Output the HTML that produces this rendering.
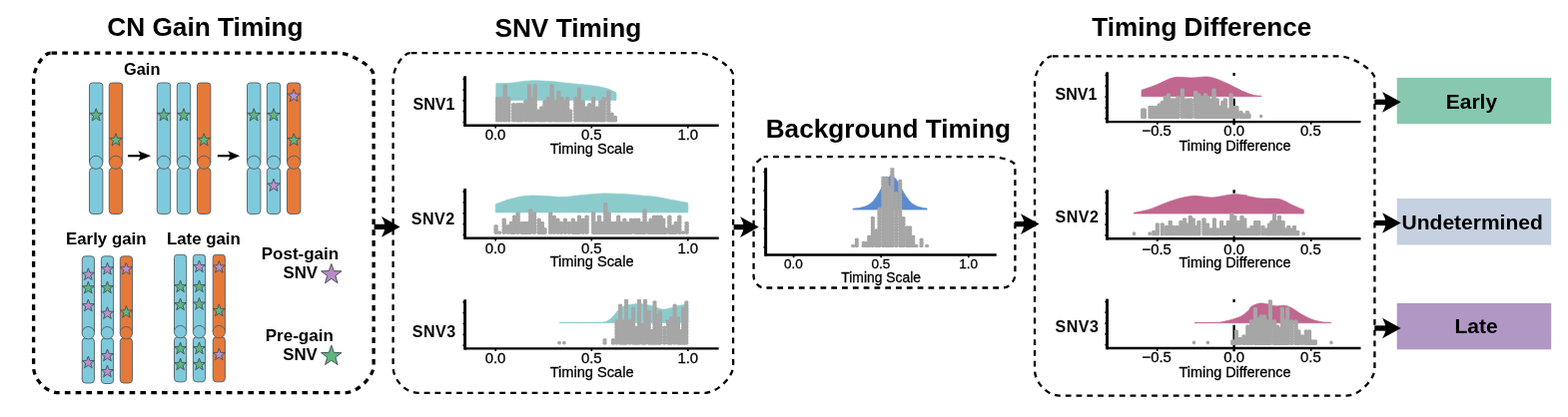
<!DOCTYPE html>
<html lang="en">
<head>
<meta charset="utf-8">
<title>Timing workflow</title>
<style>
html,body{margin:0;padding:0;background:#fff;}
body{width:1570px;height:418px;overflow:hidden;}
svg{display:block;font-family:"Liberation Sans", Arial, Helvetica, sans-serif;will-change:transform;}
</style>
</head>
<body>
<svg width="1570" height="418" viewBox="0 0 1570 418">
<rect width="1570" height="418" fill="#fff"/>
<text x="107.2" y="35.8" font-size="26.25" font-weight="bold" text-anchor="start" fill="#000">CN Gain Timing</text>
<text x="495.4" y="36.9" font-size="26.25" font-weight="bold" text-anchor="start" fill="#000">SNV Timing</text>
<text x="766.7" y="138" font-size="26.2" font-weight="bold" text-anchor="start" fill="#000">Background Timing</text>
<text x="1093.3" y="35.6" font-size="26.1" font-weight="bold" text-anchor="start" fill="#000">Timing Difference</text>
<path d="M50.6 53.2H339.1C351.70 53.20 374.10 67.28 374.10 75.20V366.6C374.10 377.94 357.86 393.60 346.10 393.60H58.6C46.10 393.60 33.60 380.60 33.60 367.60V79.7C33.60 68.57 43.46 53.20 50.60 53.20Z" fill="none" stroke="#000" stroke-width="3.3" stroke-dasharray="5.6 5.2" stroke-dashoffset="-0.9"/>
<path d="M410.6 53.2H699.1C711.70 53.20 734.10 67.28 734.10 75.20V366.8C734.10 378.14 717.86 393.80 706.10 393.80H418.6C406.10 393.80 393.60 380.80 393.60 367.80V79.7C393.60 68.57 403.46 53.20 410.60 53.20Z" fill="none" stroke="#000" stroke-width="2.3" stroke-dasharray="5.8 5.0" stroke-dashoffset="-1.1"/>
<path d="M764.6 157.2H992.4C1003.20 157.20 1016.40 161.93 1016.40 165.80V275.0C1016.40 281.75 1010.40 288.50 1004.40 288.50H765.1C759.85 288.50 754.60 282.60 754.60 276.70V166.7C754.60 165.27 763.10 157.20 764.60 157.20Z" fill="none" stroke="#000" stroke-width="2.3" stroke-dasharray="5.8 5.0" stroke-dashoffset="1.3"/>
<path d="M1053.05 56.4H1341.4C1354.00 56.40 1376.40 70.48 1376.40 78.40V369.65C1376.40 380.99 1360.16 396.65 1348.40 396.65H1061.05C1048.55 396.65 1036.05 383.65 1036.05 370.65V82.9C1036.05 71.77 1045.91 56.40 1053.05 56.40Z" fill="none" stroke="#000" stroke-width="2.3" stroke-dasharray="5.8 5.0" stroke-dashoffset="-0.8"/>
<path d="M374.6 224.75H388.60V230.05H374.6Z" fill="#000"/>
<path d="M400.6 227.4L382.00 217.05Q385.24 222.74 385.60 227.4Q385.24 232.06 382.00 237.75Z" fill="#000"/>
<path d="M734.6 224.95H747.80V230.25H734.6Z" fill="#000"/>
<path d="M759.8 227.6L741.20 217.25Q744.44 222.94 744.80 227.6Q744.44 232.26 741.20 237.95Z" fill="#000"/>
<path d="M1016 221.95H1028.60V227.25H1016Z" fill="#000"/>
<path d="M1040.6 224.6L1022.00 214.25Q1025.24 219.94 1025.60 224.6Q1025.24 229.26 1022.00 234.95Z" fill="#000"/>
<rect x="1398.7" y="77.9" width="154.5" height="46.3" fill="#88c7b0"/>
<rect x="1398.7" y="198.9" width="154.5" height="46.6" fill="#c5d0e0"/>
<rect x="1398.7" y="303.9" width="154.5" height="46.4" fill="#b097c4"/>
<path d="M1376.3 99.65H1390.70V104.95H1376.3Z" fill="#000"/>
<path d="M1402.7 102.3L1384.10 91.95Q1387.34 97.64 1387.70 102.3Q1387.34 106.96 1384.10 112.65Z" fill="#000"/>
<path d="M1376.3 220.85H1390.70V226.15H1376.3Z" fill="#000"/>
<path d="M1402.7 223.5L1384.10 213.15Q1387.34 218.84 1387.70 223.5Q1387.34 228.16 1384.10 233.85Z" fill="#000"/>
<path d="M1376.3 326.35H1390.70V331.65H1376.3Z" fill="#000"/>
<path d="M1402.7 329L1384.10 318.65Q1387.34 324.34 1387.70 329Q1387.34 333.66 1384.10 339.35Z" fill="#000"/>
<text x="1473.4" y="108.7" font-size="21" font-weight="bold" text-anchor="middle" fill="#000">Early</text>
<text x="1474.2" y="230" font-size="21" font-weight="bold" text-anchor="middle" fill="#000">Undetermined</text>
<text x="1478" y="334" font-size="21" font-weight="bold" text-anchor="middle" fill="#000">Late</text>
<text x="124" y="74.7" font-size="16.4" font-weight="bold" text-anchor="start" fill="#000">Gain</text>
<path d="M128.05 155.20H143.40V157.30H128.05Z" fill="#000"/>
<path d="M151.0 156.25L138.40 151.25Q140.20 154.00 140.40 156.25Q140.20 158.50 138.40 161.25Z" fill="#000"/>
<path d="M217.8 155.20H233.20V157.30H217.8Z" fill="#000"/>
<path d="M240.1 156.25L228.20 151.25Q230.00 154.00 230.20 156.25Q230.00 158.50 228.20 161.25Z" fill="#000"/>
<path d="M89.5 162.8V86Q89.5 83 92.5 83H99.9Q102.9 83 102.9 86V162.8" fill="#7fc9dc" stroke="#525d63" stroke-width="0.9"/>
<rect x="89.5" y="168.3" width="13.4" height="46.19999999999999" rx="3.5" ry="3.5" fill="#7fc9dc" stroke="#525d63" stroke-width="0.9"/>
<circle cx="96.2" cy="162.8" r="6.6" fill="#7fc9dc" stroke="#525d63" stroke-width="0.9"/>
<polygon points="96.20,108.70 97.80,113.30 102.67,113.40 98.79,116.34 100.20,121.00 96.20,118.22 92.20,121.00 93.61,116.34 89.73,113.40 94.60,113.30" fill="#5fb67f" stroke="#4b565d" stroke-width="0.95" stroke-linejoin="miter"/>
<path d="M109.3 162.8V86Q109.3 83 112.3 83H119.7Q122.7 83 122.7 86V162.8" fill="#e5793a" stroke="#525d63" stroke-width="0.9"/>
<rect x="109.3" y="168.3" width="13.4" height="46.19999999999999" rx="3.5" ry="3.5" fill="#e5793a" stroke="#525d63" stroke-width="0.9"/>
<circle cx="116" cy="162.8" r="6.6" fill="#e5793a" stroke="#525d63" stroke-width="0.9"/>
<polygon points="116.00,133.70 117.60,138.30 122.47,138.40 118.59,141.34 120.00,146.00 116.00,143.22 112.00,146.00 113.41,141.34 109.53,138.40 114.40,138.30" fill="#5fb67f" stroke="#4b565d" stroke-width="0.95" stroke-linejoin="miter"/>
<path d="M157.3 162.8V86Q157.3 83 160.3 83H167.70000000000002Q170.70000000000002 83 170.70000000000002 86V162.8" fill="#7fc9dc" stroke="#525d63" stroke-width="0.9"/>
<rect x="157.3" y="168.3" width="13.4" height="46.19999999999999" rx="3.5" ry="3.5" fill="#7fc9dc" stroke="#525d63" stroke-width="0.9"/>
<circle cx="164" cy="162.8" r="6.6" fill="#7fc9dc" stroke="#525d63" stroke-width="0.9"/>
<polygon points="164.00,108.70 165.60,113.30 170.47,113.40 166.59,116.34 168.00,121.00 164.00,118.22 160.00,121.00 161.41,116.34 157.53,113.40 162.40,113.30" fill="#5fb67f" stroke="#4b565d" stroke-width="0.95" stroke-linejoin="miter"/>
<path d="M177.3 162.8V86Q177.3 83 180.3 83H187.70000000000002Q190.70000000000002 83 190.70000000000002 86V162.8" fill="#7fc9dc" stroke="#525d63" stroke-width="0.9"/>
<rect x="177.3" y="168.3" width="13.4" height="46.19999999999999" rx="3.5" ry="3.5" fill="#7fc9dc" stroke="#525d63" stroke-width="0.9"/>
<circle cx="184" cy="162.8" r="6.6" fill="#7fc9dc" stroke="#525d63" stroke-width="0.9"/>
<polygon points="184.00,108.70 185.60,113.30 190.47,113.40 186.59,116.34 188.00,121.00 184.00,118.22 180.00,121.00 181.41,116.34 177.53,113.40 182.40,113.30" fill="#5fb67f" stroke="#4b565d" stroke-width="0.95" stroke-linejoin="miter"/>
<path d="M197.5 162.8V86Q197.5 83 200.5 83H207.9Q210.9 83 210.9 86V162.8" fill="#e5793a" stroke="#525d63" stroke-width="0.9"/>
<rect x="197.5" y="168.3" width="13.4" height="46.19999999999999" rx="3.5" ry="3.5" fill="#e5793a" stroke="#525d63" stroke-width="0.9"/>
<circle cx="204.2" cy="162.8" r="6.6" fill="#e5793a" stroke="#525d63" stroke-width="0.9"/>
<polygon points="204.20,133.70 205.80,138.30 210.67,138.40 206.79,141.34 208.20,146.00 204.20,143.22 200.20,146.00 201.61,141.34 197.73,138.40 202.60,138.30" fill="#5fb67f" stroke="#4b565d" stroke-width="0.95" stroke-linejoin="miter"/>
<path d="M247.5 162.8V86Q247.5 83 250.5 83H257.9Q260.9 83 260.9 86V162.8" fill="#7fc9dc" stroke="#525d63" stroke-width="0.9"/>
<rect x="247.5" y="168.3" width="13.4" height="46.19999999999999" rx="3.5" ry="3.5" fill="#7fc9dc" stroke="#525d63" stroke-width="0.9"/>
<circle cx="254.2" cy="162.8" r="6.6" fill="#7fc9dc" stroke="#525d63" stroke-width="0.9"/>
<polygon points="254.20,108.70 255.80,113.30 260.67,113.40 256.79,116.34 258.20,121.00 254.20,118.22 250.20,121.00 251.61,116.34 247.73,113.40 252.60,113.30" fill="#5fb67f" stroke="#4b565d" stroke-width="0.95" stroke-linejoin="miter"/>
<path d="M267.3 162.8V86Q267.3 83 270.3 83H277.7Q280.7 83 280.7 86V162.8" fill="#7fc9dc" stroke="#525d63" stroke-width="0.9"/>
<rect x="267.3" y="168.3" width="13.4" height="46.19999999999999" rx="3.5" ry="3.5" fill="#7fc9dc" stroke="#525d63" stroke-width="0.9"/>
<circle cx="274" cy="162.8" r="6.6" fill="#7fc9dc" stroke="#525d63" stroke-width="0.9"/>
<polygon points="274.00,108.70 275.60,113.30 280.47,113.40 276.59,116.34 278.00,121.00 274.00,118.22 270.00,121.00 271.41,116.34 267.53,113.40 272.40,113.30" fill="#5fb67f" stroke="#4b565d" stroke-width="0.95" stroke-linejoin="miter"/>
<polygon points="274.00,179.20 275.60,183.80 280.47,183.90 276.59,186.84 278.00,191.50 274.00,188.72 270.00,191.50 271.41,186.84 267.53,183.90 272.40,183.80" fill="#bc90cb" stroke="#4b565d" stroke-width="0.95" stroke-linejoin="miter"/>
<path d="M287.5 162.8V86Q287.5 83 290.5 83H297.9Q300.9 83 300.9 86V162.8" fill="#e5793a" stroke="#525d63" stroke-width="0.9"/>
<rect x="287.5" y="168.3" width="13.4" height="46.19999999999999" rx="3.5" ry="3.5" fill="#e5793a" stroke="#525d63" stroke-width="0.9"/>
<circle cx="294.2" cy="162.8" r="6.6" fill="#e5793a" stroke="#525d63" stroke-width="0.9"/>
<polygon points="294.20,89.40 295.80,94.00 300.67,94.10 296.79,97.04 298.20,101.70 294.20,98.92 290.20,101.70 291.61,97.04 287.73,94.10 292.60,94.00" fill="#bc90cb" stroke="#4b565d" stroke-width="0.95" stroke-linejoin="miter"/>
<polygon points="294.20,133.70 295.80,138.30 300.67,138.40 296.79,141.34 298.20,146.00 294.20,143.22 290.20,146.00 291.61,141.34 287.73,138.40 292.60,138.30" fill="#5fb67f" stroke="#4b565d" stroke-width="0.95" stroke-linejoin="miter"/>
<path d="M82.25 333.7V259.8Q82.25 256.8 85.25 256.8H91.45Q94.45 256.8 94.45 259.8V333.7" fill="#7fc9dc" stroke="#525d63" stroke-width="0.9"/>
<rect x="82.25" y="338.79999999999995" width="12.2" height="45.200000000000045" rx="3.5" ry="3.5" fill="#7fc9dc" stroke="#525d63" stroke-width="0.9"/>
<circle cx="88.35" cy="333.7" r="6.2" fill="#7fc9dc" stroke="#525d63" stroke-width="0.9"/>
<polygon points="88.35,268.80 89.88,273.20 94.53,273.29 90.82,276.10 92.17,280.56 88.35,277.90 84.53,280.56 85.88,276.10 82.17,273.29 86.82,273.20" fill="#bc90cb" stroke="#4b565d" stroke-width="0.95" stroke-linejoin="miter"/>
<polygon points="88.35,282.30 89.88,286.70 94.53,286.79 90.82,289.60 92.17,294.06 88.35,291.40 84.53,294.06 85.88,289.60 82.17,286.79 86.82,286.70" fill="#5fb67f" stroke="#4b565d" stroke-width="0.95" stroke-linejoin="miter"/>
<polygon points="88.35,300.10 89.88,304.50 94.53,304.59 90.82,307.40 92.17,311.86 88.35,309.20 84.53,311.86 85.88,307.40 82.17,304.59 86.82,304.50" fill="#bc90cb" stroke="#4b565d" stroke-width="0.95" stroke-linejoin="miter"/>
<polygon points="88.35,357.00 89.88,361.40 94.53,361.49 90.82,364.30 92.17,368.76 88.35,366.10 84.53,368.76 85.88,364.30 82.17,361.49 86.82,361.40" fill="#bc90cb" stroke="#4b565d" stroke-width="0.95" stroke-linejoin="miter"/>
<path d="M101.4 333.7V259.8Q101.4 256.8 104.4 256.8H110.60000000000001Q113.60000000000001 256.8 113.60000000000001 259.8V333.7" fill="#7fc9dc" stroke="#525d63" stroke-width="0.9"/>
<rect x="101.4" y="338.79999999999995" width="12.2" height="45.700000000000045" rx="3.5" ry="3.5" fill="#7fc9dc" stroke="#525d63" stroke-width="0.9"/>
<circle cx="107.5" cy="333.7" r="6.2" fill="#7fc9dc" stroke="#525d63" stroke-width="0.9"/>
<polygon points="107.50,263.30 109.03,267.70 113.68,267.79 109.97,270.60 111.32,275.06 107.50,272.40 103.68,275.06 105.03,270.60 101.32,267.79 105.97,267.70" fill="#bc90cb" stroke="#4b565d" stroke-width="0.95" stroke-linejoin="miter"/>
<polygon points="107.50,282.00 109.03,286.40 113.68,286.49 109.97,289.30 111.32,293.76 107.50,291.10 103.68,293.76 105.03,289.30 101.32,286.49 105.97,286.40" fill="#5fb67f" stroke="#4b565d" stroke-width="0.95" stroke-linejoin="miter"/>
<polygon points="107.50,307.70 109.03,312.10 113.68,312.19 109.97,315.00 111.32,319.46 107.50,316.80 103.68,319.46 105.03,315.00 101.32,312.19 105.97,312.10" fill="#bc90cb" stroke="#4b565d" stroke-width="0.95" stroke-linejoin="miter"/>
<polygon points="107.50,350.00 109.03,354.40 113.68,354.49 109.97,357.30 111.32,361.76 107.50,359.10 103.68,361.76 105.03,357.30 101.32,354.49 105.97,354.40" fill="#bc90cb" stroke="#4b565d" stroke-width="0.95" stroke-linejoin="miter"/>
<polygon points="107.50,366.00 109.03,370.40 113.68,370.49 109.97,373.30 111.32,377.76 107.50,375.10 103.68,377.76 105.03,373.30 101.32,370.49 105.97,370.40" fill="#bc90cb" stroke="#4b565d" stroke-width="0.95" stroke-linejoin="miter"/>
<path d="M120.30000000000001 333.7V259.8Q120.30000000000001 256.8 123.30000000000001 256.8H129.5Q132.5 256.8 132.5 259.8V333.7" fill="#e5793a" stroke="#525d63" stroke-width="0.9"/>
<rect x="120.30000000000001" y="338.79999999999995" width="12.2" height="45.200000000000045" rx="3.5" ry="3.5" fill="#e5793a" stroke="#525d63" stroke-width="0.9"/>
<circle cx="126.4" cy="333.7" r="6.2" fill="#e5793a" stroke="#525d63" stroke-width="0.9"/>
<polygon points="126.40,263.30 127.93,267.70 132.58,267.79 128.87,270.60 130.22,275.06 126.40,272.40 122.58,275.06 123.93,270.60 120.22,267.79 124.87,267.70" fill="#bc90cb" stroke="#4b565d" stroke-width="0.95" stroke-linejoin="miter"/>
<polygon points="126.40,306.50 127.93,310.90 132.58,310.99 128.87,313.80 130.22,318.26 126.40,315.60 122.58,318.26 123.93,313.80 120.22,310.99 124.87,310.90" fill="#5fb67f" stroke="#4b565d" stroke-width="0.95" stroke-linejoin="miter"/>
<path d="M174.5 332.6V258.3Q174.5 255.3 177.5 255.3H183.7Q186.7 255.3 186.7 258.3V332.6" fill="#7fc9dc" stroke="#525d63" stroke-width="0.9"/>
<rect x="174.5" y="337.7" width="12.2" height="45.10000000000002" rx="3.5" ry="3.5" fill="#7fc9dc" stroke="#525d63" stroke-width="0.9"/>
<circle cx="180.6" cy="332.6" r="6.2" fill="#7fc9dc" stroke="#525d63" stroke-width="0.9"/>
<polygon points="180.60,281.00 182.13,285.40 186.78,285.49 183.07,288.30 184.42,292.76 180.60,290.10 176.78,292.76 178.13,288.30 174.42,285.49 179.07,285.40" fill="#5fb67f" stroke="#4b565d" stroke-width="0.95" stroke-linejoin="miter"/>
<polygon points="180.60,299.00 182.13,303.40 186.78,303.49 183.07,306.30 184.42,310.76 180.60,308.10 176.78,310.76 178.13,306.30 174.42,303.49 179.07,303.40" fill="#5fb67f" stroke="#4b565d" stroke-width="0.95" stroke-linejoin="miter"/>
<polygon points="180.60,343.00 182.13,347.40 186.78,347.49 183.07,350.30 184.42,354.76 180.60,352.10 176.78,354.76 178.13,350.30 174.42,347.49 179.07,347.40" fill="#5fb67f" stroke="#4b565d" stroke-width="0.95" stroke-linejoin="miter"/>
<polygon points="180.60,359.00 182.13,363.40 186.78,363.49 183.07,366.30 184.42,370.76 180.60,368.10 176.78,370.76 178.13,366.30 174.42,363.49 179.07,363.40" fill="#5fb67f" stroke="#4b565d" stroke-width="0.95" stroke-linejoin="miter"/>
<path d="M193.4 332.6V258.3Q193.4 255.3 196.4 255.3H202.6Q205.6 255.3 205.6 258.3V332.6" fill="#7fc9dc" stroke="#525d63" stroke-width="0.9"/>
<rect x="193.4" y="337.7" width="12.2" height="45.10000000000002" rx="3.5" ry="3.5" fill="#7fc9dc" stroke="#525d63" stroke-width="0.9"/>
<circle cx="199.5" cy="332.6" r="6.2" fill="#7fc9dc" stroke="#525d63" stroke-width="0.9"/>
<polygon points="199.50,261.00 201.03,265.40 205.68,265.49 201.97,268.30 203.32,272.76 199.50,270.10 195.68,272.76 197.03,268.30 193.32,265.49 197.97,265.40" fill="#bc90cb" stroke="#4b565d" stroke-width="0.95" stroke-linejoin="miter"/>
<polygon points="199.50,281.00 201.03,285.40 205.68,285.49 201.97,288.30 203.32,292.76 199.50,290.10 195.68,292.76 197.03,288.30 193.32,285.49 197.97,285.40" fill="#5fb67f" stroke="#4b565d" stroke-width="0.95" stroke-linejoin="miter"/>
<polygon points="199.50,298.50 201.03,302.90 205.68,302.99 201.97,305.80 203.32,310.26 199.50,307.60 195.68,310.26 197.03,305.80 193.32,302.99 197.97,302.90" fill="#5fb67f" stroke="#4b565d" stroke-width="0.95" stroke-linejoin="miter"/>
<polygon points="199.50,343.00 201.03,347.40 205.68,347.49 201.97,350.30 203.32,354.76 199.50,352.10 195.68,354.76 197.03,350.30 193.32,347.49 197.97,347.40" fill="#5fb67f" stroke="#4b565d" stroke-width="0.95" stroke-linejoin="miter"/>
<polygon points="199.50,359.00 201.03,363.40 205.68,363.49 201.97,366.30 203.32,370.76 199.50,368.10 195.68,370.76 197.03,366.30 193.32,363.49 197.97,363.40" fill="#5fb67f" stroke="#4b565d" stroke-width="0.95" stroke-linejoin="miter"/>
<path d="M213.20000000000002 332.6V258.3Q213.20000000000002 255.3 216.20000000000002 255.3H222.4Q225.4 255.3 225.4 258.3V332.6" fill="#e5793a" stroke="#525d63" stroke-width="0.9"/>
<rect x="213.20000000000002" y="337.7" width="12.2" height="45.10000000000002" rx="3.5" ry="3.5" fill="#e5793a" stroke="#525d63" stroke-width="0.9"/>
<circle cx="219.3" cy="332.6" r="6.2" fill="#e5793a" stroke="#525d63" stroke-width="0.9"/>
<polygon points="219.30,261.50 220.83,265.90 225.48,265.99 221.77,268.80 223.12,273.26 219.30,270.60 215.48,273.26 216.83,268.80 213.12,265.99 217.77,265.90" fill="#bc90cb" stroke="#4b565d" stroke-width="0.95" stroke-linejoin="miter"/>
<polygon points="219.30,305.00 220.83,309.40 225.48,309.49 221.77,312.30 223.12,316.76 219.30,314.10 215.48,316.76 216.83,312.30 213.12,309.49 217.77,309.40" fill="#5fb67f" stroke="#4b565d" stroke-width="0.95" stroke-linejoin="miter"/>
<polygon points="219.30,349.00 220.83,353.40 225.48,353.49 221.77,356.30 223.12,360.76 219.30,358.10 215.48,360.76 216.83,356.30 213.12,353.49 217.77,353.40" fill="#bc90cb" stroke="#4b565d" stroke-width="0.95" stroke-linejoin="miter"/>
<text x="66" y="245.3" font-size="16.85" font-weight="bold" text-anchor="start" fill="#000">Early gain</text>
<text x="166.9" y="245.3" font-size="16.85" font-weight="bold" text-anchor="start" fill="#000">Late gain</text>
<text x="339.2" y="260" font-size="17.0" font-weight="bold" text-anchor="end" fill="#000">Post-gain</text>
<text x="318.0" y="279.3" font-size="16.8" font-weight="bold" text-anchor="end" fill="#000">SNV</text>
<text x="333.8" y="342" font-size="17.0" font-weight="bold" text-anchor="end" fill="#000">Pre-gain</text>
<text x="317.8" y="361.3" font-size="16.8" font-weight="bold" text-anchor="end" fill="#000">SNV</text>
<polygon points="331.80,264.40 334.33,271.62 341.98,271.79 335.89,276.43 338.09,283.76 331.80,279.40 325.51,283.76 327.71,276.43 321.62,271.79 329.27,271.62" fill="#b68bc4" stroke="#4b565d" stroke-width="1.0" stroke-linejoin="miter"/>
<polygon points="331.80,346.20 334.33,353.42 341.98,353.59 335.89,358.23 338.09,365.56 331.80,361.20 325.51,365.56 327.71,358.23 321.62,353.59 329.27,353.42" fill="#5fb67f" stroke="#4b565d" stroke-width="1.0" stroke-linejoin="miter"/>
<path d="M496.8 83.6C499.3 83.5 505.6 83.6 511.3 83.2C517.0 82.7 524.5 81.2 531.1 80.9C537.6 80.7 545.3 81.2 550.8 81.6C556.3 81.9 557.4 82.2 563.9 82.9C570.5 83.6 583.2 84.6 590.3 85.5C597.3 86.4 601.6 87.0 606.1 88.2C610.5 89.4 615.2 92.0 617.0 92.8L617.0 100.4L496.8 100.4Z" fill="#8ccbcc" stroke="#8ccbcc" stroke-width="0.7" stroke-linejoin="round"/>
<path d="M498.2 120.7V98.6M501.8 120.7V98.6M505.7 120.7V86.0M509.3 120.7V98.6M514.2 120.7V104.9M517.9 120.7V104.9M520.3 120.7V104.9M522.5 120.7V104.9M526.4 120.7V101.8M530.0 120.7V86.0M532.8 120.7V98.6M535.7 120.7V86.0M539.2 120.7V111.2M542.2 120.7V108.1M545.5 120.7V101.8M549.1 120.7V98.6M552.5 120.7V86.0M556.1 120.7V101.8M559.3 120.7V92.3M562.6 120.7V98.6M564.9 120.7V101.8M568.2 120.7V98.6M571.2 120.7V111.2M576.4 120.7V98.6M580.0 120.7V89.2M583.7 120.7V101.8M587.0 120.7V108.1M590.3 120.7V104.9M594.2 120.7V98.6M597.9 120.7V108.1M601.4 120.7V101.8M604.7 120.7V98.6M609.3 120.7V92.3M612.6 120.7V114.4M615.9 120.7V117.5" fill="none" stroke="#a6a6a6" stroke-width="3.80" stroke-linecap="butt"/>
<path transform="scale(1 0.8)" d="M498.2 150.82v-0.01M498.2 146.89v-0.01M498.2 142.95v-0.01M498.2 139.01v-0.01M498.2 135.07v-0.01M498.2 131.14v-0.01M498.2 127.20v-0.01M498.2 123.26v-0.01M501.8 150.82v-0.01M501.8 146.89v-0.01M501.8 142.95v-0.01M501.8 139.01v-0.01M501.8 135.07v-0.01M501.8 131.14v-0.01M501.8 127.20v-0.01M501.8 123.26v-0.01M505.7 150.82v-0.01M505.7 146.89v-0.01M505.7 142.95v-0.01M505.7 139.01v-0.01M505.7 135.07v-0.01M505.7 131.14v-0.01M505.7 127.20v-0.01M505.7 123.26v-0.01M505.7 119.32v-0.01M505.7 115.39v-0.01M505.7 111.45v-0.01M505.7 107.51v-0.01M509.3 150.82v-0.01M509.3 146.89v-0.01M509.3 142.95v-0.01M509.3 139.01v-0.01M509.3 135.07v-0.01M509.3 131.14v-0.01M509.3 127.20v-0.01M509.3 123.26v-0.01M514.2 150.82v-0.01M514.2 146.89v-0.01M514.2 142.95v-0.01M514.2 139.01v-0.01M514.2 135.07v-0.01M514.2 131.14v-0.01M517.9 150.82v-0.01M517.9 146.89v-0.01M517.9 142.95v-0.01M517.9 139.01v-0.01M517.9 135.07v-0.01M517.9 131.14v-0.01M520.3 150.82v-0.01M520.3 146.89v-0.01M520.3 142.95v-0.01M520.3 139.01v-0.01M520.3 135.07v-0.01M520.3 131.14v-0.01M522.5 150.82v-0.01M522.5 146.89v-0.01M522.5 142.95v-0.01M522.5 139.01v-0.01M522.5 135.07v-0.01M522.5 131.14v-0.01M526.4 150.82v-0.01M526.4 146.89v-0.01M526.4 142.95v-0.01M526.4 139.01v-0.01M526.4 135.07v-0.01M526.4 131.14v-0.01M526.4 127.20v-0.01M530.0 150.82v-0.01M530.0 146.89v-0.01M530.0 142.95v-0.01M530.0 139.01v-0.01M530.0 135.07v-0.01M530.0 131.14v-0.01M530.0 127.20v-0.01M530.0 123.26v-0.01M530.0 119.32v-0.01M530.0 115.39v-0.01M530.0 111.45v-0.01M530.0 107.51v-0.01M532.8 150.82v-0.01M532.8 146.89v-0.01M532.8 142.95v-0.01M532.8 139.01v-0.01M532.8 135.07v-0.01M532.8 131.14v-0.01M532.8 127.20v-0.01M532.8 123.26v-0.01M535.7 150.82v-0.01M535.7 146.89v-0.01M535.7 142.95v-0.01M535.7 139.01v-0.01M535.7 135.07v-0.01M535.7 131.14v-0.01M535.7 127.20v-0.01M535.7 123.26v-0.01M535.7 119.32v-0.01M535.7 115.39v-0.01M535.7 111.45v-0.01M535.7 107.51v-0.01M539.2 150.82v-0.01M539.2 146.89v-0.01M539.2 142.95v-0.01M539.2 139.01v-0.01M542.2 150.82v-0.01M542.2 146.89v-0.01M542.2 142.95v-0.01M542.2 139.01v-0.01M542.2 135.07v-0.01M545.5 150.82v-0.01M545.5 146.89v-0.01M545.5 142.95v-0.01M545.5 139.01v-0.01M545.5 135.07v-0.01M545.5 131.14v-0.01M545.5 127.20v-0.01M549.1 150.82v-0.01M549.1 146.89v-0.01M549.1 142.95v-0.01M549.1 139.01v-0.01M549.1 135.07v-0.01M549.1 131.14v-0.01M549.1 127.20v-0.01M549.1 123.26v-0.01M552.5 150.82v-0.01M552.5 146.89v-0.01M552.5 142.95v-0.01M552.5 139.01v-0.01M552.5 135.07v-0.01M552.5 131.14v-0.01M552.5 127.20v-0.01M552.5 123.26v-0.01M552.5 119.32v-0.01M552.5 115.39v-0.01M552.5 111.45v-0.01M552.5 107.51v-0.01M556.1 150.82v-0.01M556.1 146.89v-0.01M556.1 142.95v-0.01M556.1 139.01v-0.01M556.1 135.07v-0.01M556.1 131.14v-0.01M556.1 127.20v-0.01M559.3 150.82v-0.01M559.3 146.89v-0.01M559.3 142.95v-0.01M559.3 139.01v-0.01M559.3 135.07v-0.01M559.3 131.14v-0.01M559.3 127.20v-0.01M559.3 123.26v-0.01M559.3 119.32v-0.01M559.3 115.39v-0.01M562.6 150.82v-0.01M562.6 146.89v-0.01M562.6 142.95v-0.01M562.6 139.01v-0.01M562.6 135.07v-0.01M562.6 131.14v-0.01M562.6 127.20v-0.01M562.6 123.26v-0.01M564.9 150.82v-0.01M564.9 146.89v-0.01M564.9 142.95v-0.01M564.9 139.01v-0.01M564.9 135.07v-0.01M564.9 131.14v-0.01M564.9 127.20v-0.01M568.2 150.82v-0.01M568.2 146.89v-0.01M568.2 142.95v-0.01M568.2 139.01v-0.01M568.2 135.07v-0.01M568.2 131.14v-0.01M568.2 127.20v-0.01M568.2 123.26v-0.01M571.2 150.82v-0.01M571.2 146.89v-0.01M571.2 142.95v-0.01M571.2 139.01v-0.01M576.4 150.82v-0.01M576.4 146.89v-0.01M576.4 142.95v-0.01M576.4 139.01v-0.01M576.4 135.07v-0.01M576.4 131.14v-0.01M576.4 127.20v-0.01M576.4 123.26v-0.01M580.0 150.82v-0.01M580.0 146.89v-0.01M580.0 142.95v-0.01M580.0 139.01v-0.01M580.0 135.07v-0.01M580.0 131.14v-0.01M580.0 127.20v-0.01M580.0 123.26v-0.01M580.0 119.32v-0.01M580.0 115.39v-0.01M580.0 111.45v-0.01M583.7 150.82v-0.01M583.7 146.89v-0.01M583.7 142.95v-0.01M583.7 139.01v-0.01M583.7 135.07v-0.01M583.7 131.14v-0.01M583.7 127.20v-0.01M587.0 150.82v-0.01M587.0 146.89v-0.01M587.0 142.95v-0.01M587.0 139.01v-0.01M587.0 135.07v-0.01M590.3 150.82v-0.01M590.3 146.89v-0.01M590.3 142.95v-0.01M590.3 139.01v-0.01M590.3 135.07v-0.01M590.3 131.14v-0.01M594.2 150.82v-0.01M594.2 146.89v-0.01M594.2 142.95v-0.01M594.2 139.01v-0.01M594.2 135.07v-0.01M594.2 131.14v-0.01M594.2 127.20v-0.01M594.2 123.26v-0.01M597.9 150.82v-0.01M597.9 146.89v-0.01M597.9 142.95v-0.01M597.9 139.01v-0.01M597.9 135.07v-0.01M601.4 150.82v-0.01M601.4 146.89v-0.01M601.4 142.95v-0.01M601.4 139.01v-0.01M601.4 135.07v-0.01M601.4 131.14v-0.01M601.4 127.20v-0.01M604.7 150.82v-0.01M604.7 146.89v-0.01M604.7 142.95v-0.01M604.7 139.01v-0.01M604.7 135.07v-0.01M604.7 131.14v-0.01M604.7 127.20v-0.01M604.7 123.26v-0.01M609.3 150.82v-0.01M609.3 146.89v-0.01M609.3 142.95v-0.01M609.3 139.01v-0.01M609.3 135.07v-0.01M609.3 131.14v-0.01M609.3 127.20v-0.01M609.3 123.26v-0.01M609.3 119.32v-0.01M609.3 115.39v-0.01M612.6 150.82v-0.01M612.6 146.89v-0.01M612.6 142.95v-0.01M615.9 150.82v-0.01M615.9 146.89v-0.01" fill="none" stroke="#a6a6a6" stroke-width="4.6" stroke-linecap="round"/>
<path d="M465.7 76.5V125.8H719.7" fill="none" stroke="#000" stroke-width="2.4" stroke-linejoin="miter"/>
<path d="M465.59999999999997 76.5V127.0" fill="none" stroke="#000" stroke-width="2.6999999999999997"/>
<path d="M496.2 125.8v2.70M592.3 125.8v2.70M688.8 125.8v2.70M465.7 122.5h-2.20M465.7 111.7h-2.20M465.7 100.9h-2.20M465.7 90.1h-2.20M465.7 79.3h-2.20" fill="none" stroke="#000" stroke-width="1.7"/>
<text x="496.0" y="140.4" font-size="14.9" stroke="#000" stroke-width="0.3" text-anchor="middle" fill="#000">0.0</text>
<text x="592.3" y="140.4" font-size="14.9" stroke="#000" stroke-width="0.3" text-anchor="middle" fill="#000">0.5</text>
<text x="688.8" y="140.4" font-size="14.9" stroke="#000" stroke-width="0.3" text-anchor="middle" fill="#000">1.0</text>
<text x="592.6" y="154.2" font-size="14.6" stroke="#000" stroke-width="0.3" text-anchor="middle" fill="#000">Timing Scale</text>
<text x="413.6" y="109.7" font-size="16" font-weight="bold" text-anchor="start" fill="#000">SNV1</text>
<path d="M496.2 204.7C498.7 203.9 505.9 200.9 511.3 199.5C516.7 198.0 521.8 196.6 528.4 196.2C535.0 195.7 544.9 196.6 550.8 196.8C556.7 197.1 558.5 197.7 563.9 197.5C569.4 197.3 577.1 196.1 583.7 195.5C590.3 194.9 596.8 194.1 603.4 193.9C610.0 193.8 616.3 194.1 623.2 194.5C630.0 194.8 638.7 195.7 644.5 196.2C650.2 196.7 653.2 196.8 657.6 197.5C662.0 198.2 665.6 199.1 670.8 200.1C676.0 201.1 685.8 202.9 688.8 203.4L688.8 212.9L496.2 212.9Z" fill="#8ccbcc" stroke="#8ccbcc" stroke-width="0.7" stroke-linejoin="round"/>
<path d="M496.6 233.1V226.8M504.7 233.1V220.5M508.4 233.1V226.8M512.0 233.1V223.6M515.0 233.1V217.3M518.6 233.1V214.2M522.5 233.1V223.6M525.8 233.1V223.6M528.4 233.1V223.6M531.3 233.1V211.0M535.0 233.1V214.2M539.6 233.1V220.5M542.9 233.1V223.6M545.5 233.1V229.9M551.2 233.1V214.2M554.7 233.1V217.3M558.4 233.1V220.5M562.0 233.1V223.6M565.9 233.1V220.5M569.9 233.1V223.6M573.8 233.1V220.5M577.1 233.1V223.6M580.0 233.1V217.3M583.7 233.1V220.5M587.6 233.1V217.3M594.2 233.1V214.2M597.5 233.1V223.6M600.1 233.1V217.3M603.4 233.1V223.6M606.3 233.1V204.7M609.6 233.1V214.2M612.9 233.1V223.6M616.2 233.1V223.6M619.2 233.1V217.3M622.1 233.1V223.6M625.4 233.1V220.5M628.7 233.1V223.6M632.0 233.1V220.5M635.9 233.1V220.5M639.2 233.1V220.5M642.5 233.1V223.6M645.5 233.1V211.0M649.1 233.1V223.6M651.7 233.1V220.5M655.0 233.1V217.3M658.3 233.1V217.3M661.6 233.1V217.3M664.2 233.1V220.5M666.8 233.1V229.9M670.4 233.1V217.3M673.4 233.1V226.8M676.7 233.1V223.6M680.3 233.1V217.3M687.6 233.1V223.6" fill="none" stroke="#a6a6a6" stroke-width="3.80" stroke-linecap="butt"/>
<path transform="scale(1 0.8)" d="M496.6 291.32v-0.01M496.6 287.39v-0.01M496.6 283.45v-0.01M500.1 291.32v-0.01M504.7 291.32v-0.01M504.7 287.39v-0.01M504.7 283.45v-0.01M504.7 279.51v-0.01M504.7 275.57v-0.01M508.4 291.32v-0.01M508.4 287.39v-0.01M508.4 283.45v-0.01M512.0 291.32v-0.01M512.0 287.39v-0.01M512.0 283.45v-0.01M512.0 279.51v-0.01M515.0 291.32v-0.01M515.0 287.39v-0.01M515.0 283.45v-0.01M515.0 279.51v-0.01M515.0 275.57v-0.01M515.0 271.64v-0.01M518.6 291.32v-0.01M518.6 287.39v-0.01M518.6 283.45v-0.01M518.6 279.51v-0.01M518.6 275.57v-0.01M518.6 271.64v-0.01M518.6 267.70v-0.01M522.5 291.32v-0.01M522.5 287.39v-0.01M522.5 283.45v-0.01M522.5 279.51v-0.01M525.8 291.32v-0.01M525.8 287.39v-0.01M525.8 283.45v-0.01M525.8 279.51v-0.01M528.4 291.32v-0.01M528.4 287.39v-0.01M528.4 283.45v-0.01M528.4 279.51v-0.01M531.3 291.32v-0.01M531.3 287.39v-0.01M531.3 283.45v-0.01M531.3 279.51v-0.01M531.3 275.57v-0.01M531.3 271.64v-0.01M531.3 267.70v-0.01M531.3 263.76v-0.01M535.0 291.32v-0.01M535.0 287.39v-0.01M535.0 283.45v-0.01M535.0 279.51v-0.01M535.0 275.57v-0.01M535.0 271.64v-0.01M535.0 267.70v-0.01M539.6 291.32v-0.01M539.6 287.39v-0.01M539.6 283.45v-0.01M539.6 279.51v-0.01M539.6 275.57v-0.01M542.9 291.32v-0.01M542.9 287.39v-0.01M542.9 283.45v-0.01M542.9 279.51v-0.01M545.5 291.32v-0.01M545.5 287.39v-0.01M551.2 291.32v-0.01M551.2 287.39v-0.01M551.2 283.45v-0.01M551.2 279.51v-0.01M551.2 275.57v-0.01M551.2 271.64v-0.01M551.2 267.70v-0.01M554.7 291.32v-0.01M554.7 287.39v-0.01M554.7 283.45v-0.01M554.7 279.51v-0.01M554.7 275.57v-0.01M554.7 271.64v-0.01M558.4 291.32v-0.01M558.4 287.39v-0.01M558.4 283.45v-0.01M558.4 279.51v-0.01M558.4 275.57v-0.01M562.0 291.32v-0.01M562.0 287.39v-0.01M562.0 283.45v-0.01M562.0 279.51v-0.01M565.9 291.32v-0.01M565.9 287.39v-0.01M565.9 283.45v-0.01M565.9 279.51v-0.01M565.9 275.57v-0.01M569.9 291.32v-0.01M569.9 287.39v-0.01M569.9 283.45v-0.01M569.9 279.51v-0.01M573.8 291.32v-0.01M573.8 287.39v-0.01M573.8 283.45v-0.01M573.8 279.51v-0.01M573.8 275.57v-0.01M577.1 291.32v-0.01M577.1 287.39v-0.01M577.1 283.45v-0.01M577.1 279.51v-0.01M580.0 291.32v-0.01M580.0 287.39v-0.01M580.0 283.45v-0.01M580.0 279.51v-0.01M580.0 275.57v-0.01M580.0 271.64v-0.01M583.7 291.32v-0.01M583.7 287.39v-0.01M583.7 283.45v-0.01M583.7 279.51v-0.01M583.7 275.57v-0.01M587.6 291.32v-0.01M587.6 287.39v-0.01M587.6 283.45v-0.01M587.6 279.51v-0.01M587.6 275.57v-0.01M587.6 271.64v-0.01M594.2 291.32v-0.01M594.2 287.39v-0.01M594.2 283.45v-0.01M594.2 279.51v-0.01M594.2 275.57v-0.01M594.2 271.64v-0.01M594.2 267.70v-0.01M597.5 291.32v-0.01M597.5 287.39v-0.01M597.5 283.45v-0.01M597.5 279.51v-0.01M600.1 291.32v-0.01M600.1 287.39v-0.01M600.1 283.45v-0.01M600.1 279.51v-0.01M600.1 275.57v-0.01M600.1 271.64v-0.01M603.4 291.32v-0.01M603.4 287.39v-0.01M603.4 283.45v-0.01M603.4 279.51v-0.01M606.3 291.32v-0.01M606.3 287.39v-0.01M606.3 283.45v-0.01M606.3 279.51v-0.01M606.3 275.57v-0.01M606.3 271.64v-0.01M606.3 267.70v-0.01M606.3 263.76v-0.01M606.3 259.82v-0.01M606.3 255.89v-0.01M609.6 291.32v-0.01M609.6 287.39v-0.01M609.6 283.45v-0.01M609.6 279.51v-0.01M609.6 275.57v-0.01M609.6 271.64v-0.01M609.6 267.70v-0.01M612.9 291.32v-0.01M612.9 287.39v-0.01M612.9 283.45v-0.01M612.9 279.51v-0.01M616.2 291.32v-0.01M616.2 287.39v-0.01M616.2 283.45v-0.01M616.2 279.51v-0.01M619.2 291.32v-0.01M619.2 287.39v-0.01M619.2 283.45v-0.01M619.2 279.51v-0.01M619.2 275.57v-0.01M619.2 271.64v-0.01M622.1 291.32v-0.01M622.1 287.39v-0.01M622.1 283.45v-0.01M622.1 279.51v-0.01M625.4 291.32v-0.01M625.4 287.39v-0.01M625.4 283.45v-0.01M625.4 279.51v-0.01M625.4 275.57v-0.01M628.7 291.32v-0.01M628.7 287.39v-0.01M628.7 283.45v-0.01M628.7 279.51v-0.01M632.0 291.32v-0.01M632.0 287.39v-0.01M632.0 283.45v-0.01M632.0 279.51v-0.01M632.0 275.57v-0.01M635.9 291.32v-0.01M635.9 287.39v-0.01M635.9 283.45v-0.01M635.9 279.51v-0.01M635.9 275.57v-0.01M639.2 291.32v-0.01M639.2 287.39v-0.01M639.2 283.45v-0.01M639.2 279.51v-0.01M639.2 275.57v-0.01M642.5 291.32v-0.01M642.5 287.39v-0.01M642.5 283.45v-0.01M642.5 279.51v-0.01M645.5 291.32v-0.01M645.5 287.39v-0.01M645.5 283.45v-0.01M645.5 279.51v-0.01M645.5 275.57v-0.01M645.5 271.64v-0.01M645.5 267.70v-0.01M645.5 263.76v-0.01M649.1 291.32v-0.01M649.1 287.39v-0.01M649.1 283.45v-0.01M649.1 279.51v-0.01M651.7 291.32v-0.01M651.7 287.39v-0.01M651.7 283.45v-0.01M651.7 279.51v-0.01M651.7 275.57v-0.01M655.0 291.32v-0.01M655.0 287.39v-0.01M655.0 283.45v-0.01M655.0 279.51v-0.01M655.0 275.57v-0.01M655.0 271.64v-0.01M658.3 291.32v-0.01M658.3 287.39v-0.01M658.3 283.45v-0.01M658.3 279.51v-0.01M658.3 275.57v-0.01M658.3 271.64v-0.01M661.6 291.32v-0.01M661.6 287.39v-0.01M661.6 283.45v-0.01M661.6 279.51v-0.01M661.6 275.57v-0.01M661.6 271.64v-0.01M664.2 291.32v-0.01M664.2 287.39v-0.01M664.2 283.45v-0.01M664.2 279.51v-0.01M664.2 275.57v-0.01M666.8 291.32v-0.01M666.8 287.39v-0.01M670.4 291.32v-0.01M670.4 287.39v-0.01M670.4 283.45v-0.01M670.4 279.51v-0.01M670.4 275.57v-0.01M670.4 271.64v-0.01M673.4 291.32v-0.01M673.4 287.39v-0.01M673.4 283.45v-0.01M676.7 291.32v-0.01M676.7 287.39v-0.01M676.7 283.45v-0.01M676.7 279.51v-0.01M680.3 291.32v-0.01M680.3 287.39v-0.01M680.3 283.45v-0.01M680.3 279.51v-0.01M680.3 275.57v-0.01M680.3 271.64v-0.01M683.9 291.32v-0.01M687.6 291.32v-0.01M687.6 287.39v-0.01M687.6 283.45v-0.01M687.6 279.51v-0.01" fill="none" stroke="#a6a6a6" stroke-width="4.6" stroke-linecap="round"/>
<path d="M465.7 189.3V238.7H719.7" fill="none" stroke="#000" stroke-width="2.4" stroke-linejoin="miter"/>
<path d="M465.59999999999997 189.3V239.89999999999998" fill="none" stroke="#000" stroke-width="2.6999999999999997"/>
<path d="M496.2 238.7v2.70M592.3 238.7v2.70M688.8 238.7v2.70M465.7 235.4h-2.20M465.7 224.6h-2.20M465.7 213.8h-2.20M465.7 203.0h-2.20M465.7 192.2h-2.20" fill="none" stroke="#000" stroke-width="1.7"/>
<text x="496.0" y="253.7" font-size="14.9" stroke="#000" stroke-width="0.3" text-anchor="middle" fill="#000">0.0</text>
<text x="592.3" y="253.7" font-size="14.9" stroke="#000" stroke-width="0.3" text-anchor="middle" fill="#000">0.5</text>
<text x="688.8" y="253.7" font-size="14.9" stroke="#000" stroke-width="0.3" text-anchor="middle" fill="#000">1.0</text>
<text x="592.6" y="267.1" font-size="14.6" stroke="#000" stroke-width="0.3" text-anchor="middle" fill="#000">Timing Scale</text>
<text x="411.8" y="224.9" font-size="16" font-weight="bold" text-anchor="start" fill="#000" letter-spacing="0.55">SNV2</text>
<path d="M560.1 323.3C563.5 323.3 574.3 323.3 580.9 323.3C587.4 323.2 595.2 323.3 599.5 323.1C603.8 323.0 604.5 323.0 606.7 322.3C608.8 321.5 610.8 320.1 612.4 318.7C614.1 317.2 614.8 315.6 616.7 313.7C618.6 311.7 621.0 308.6 623.9 307.2C626.8 305.8 630.6 305.4 634.0 305.0C637.3 304.6 640.6 304.4 644.0 304.8C647.3 305.1 650.7 306.3 654.0 307.2C657.4 308.1 660.7 309.9 664.1 310.1C667.4 310.2 671.0 308.6 674.1 307.9C677.2 307.2 680.3 306.2 682.7 305.8C685.2 305.3 687.9 305.4 688.9 305.3L688.9 323.7L560.1 323.7Z" fill="#8ccbcc" stroke="#8ccbcc" stroke-width="0.7" stroke-linejoin="round"/>
<clipPath id="c3"><rect x="540" y="300.0215208034433" width="200" height="60"/></clipPath>
<g clip-path="url(#c3)">
<path d="M560.0 343.6v-0.01M564.8 343.6v-0.01" fill="none" stroke="#a6a6a6" stroke-width="3.9" stroke-linecap="round"/>
<path d="M605.5 344.0V340.9M613.9 344.0V340.9M617.5 344.0V322.0M621.0 344.0V306.2M623.9 344.0V322.0M627.1 344.0V299.9M630.7 344.0V322.0M634.0 344.0V309.4M636.8 344.0V328.3M640.0 344.0V299.9M643.3 344.0V325.1M646.1 344.0V299.9M649.7 344.0V312.5M652.3 344.0V331.4M655.5 344.0V303.1M658.3 344.0V315.7M661.2 344.0V312.5M665.2 344.0V328.3M669.1 344.0V322.0M672.0 344.0V318.8M675.6 344.0V306.2M679.1 344.0V318.8M681.3 344.0V331.4M684.2 344.0V309.4M687.3 344.0V303.1" fill="none" stroke="#a6a6a6" stroke-width="3.60" stroke-linecap="butt"/>
<path transform="scale(1 0.8)" d="M605.5 430.05v-0.01M605.5 426.11v-0.01M613.9 430.05v-0.01M613.9 426.11v-0.01M617.5 430.05v-0.01M617.5 426.11v-0.01M617.5 422.18v-0.01M617.5 418.24v-0.01M617.5 414.30v-0.01M617.5 410.36v-0.01M617.5 406.43v-0.01M617.5 402.49v-0.01M621.0 430.05v-0.01M621.0 426.11v-0.01M621.0 422.18v-0.01M621.0 418.24v-0.01M621.0 414.30v-0.01M621.0 410.36v-0.01M621.0 406.43v-0.01M621.0 402.49v-0.01M621.0 398.55v-0.01M621.0 394.61v-0.01M621.0 390.68v-0.01M621.0 386.74v-0.01M621.0 382.80v-0.01M623.9 430.05v-0.01M623.9 426.11v-0.01M623.9 422.18v-0.01M623.9 418.24v-0.01M623.9 414.30v-0.01M623.9 410.36v-0.01M623.9 406.43v-0.01M623.9 402.49v-0.01M627.1 430.05v-0.01M627.1 426.11v-0.01M627.1 422.18v-0.01M627.1 418.24v-0.01M627.1 414.30v-0.01M627.1 410.36v-0.01M627.1 406.43v-0.01M627.1 402.49v-0.01M627.1 398.55v-0.01M627.1 394.61v-0.01M627.1 390.68v-0.01M627.1 386.74v-0.01M627.1 382.80v-0.01M627.1 378.86v-0.01M627.1 374.92v-0.01M630.7 430.05v-0.01M630.7 426.11v-0.01M630.7 422.18v-0.01M630.7 418.24v-0.01M630.7 414.30v-0.01M630.7 410.36v-0.01M630.7 406.43v-0.01M630.7 402.49v-0.01M634.0 430.05v-0.01M634.0 426.11v-0.01M634.0 422.18v-0.01M634.0 418.24v-0.01M634.0 414.30v-0.01M634.0 410.36v-0.01M634.0 406.43v-0.01M634.0 402.49v-0.01M634.0 398.55v-0.01M634.0 394.61v-0.01M634.0 390.68v-0.01M634.0 386.74v-0.01M636.8 430.05v-0.01M636.8 426.11v-0.01M636.8 422.18v-0.01M636.8 418.24v-0.01M636.8 414.30v-0.01M636.8 410.36v-0.01M640.0 430.05v-0.01M640.0 426.11v-0.01M640.0 422.18v-0.01M640.0 418.24v-0.01M640.0 414.30v-0.01M640.0 410.36v-0.01M640.0 406.43v-0.01M640.0 402.49v-0.01M640.0 398.55v-0.01M640.0 394.61v-0.01M640.0 390.68v-0.01M640.0 386.74v-0.01M640.0 382.80v-0.01M640.0 378.86v-0.01M640.0 374.92v-0.01M643.3 430.05v-0.01M643.3 426.11v-0.01M643.3 422.18v-0.01M643.3 418.24v-0.01M643.3 414.30v-0.01M643.3 410.36v-0.01M643.3 406.43v-0.01M646.1 430.05v-0.01M646.1 426.11v-0.01M646.1 422.18v-0.01M646.1 418.24v-0.01M646.1 414.30v-0.01M646.1 410.36v-0.01M646.1 406.43v-0.01M646.1 402.49v-0.01M646.1 398.55v-0.01M646.1 394.61v-0.01M646.1 390.68v-0.01M646.1 386.74v-0.01M646.1 382.80v-0.01M646.1 378.86v-0.01M646.1 374.92v-0.01M649.7 430.05v-0.01M649.7 426.11v-0.01M649.7 422.18v-0.01M649.7 418.24v-0.01M649.7 414.30v-0.01M649.7 410.36v-0.01M649.7 406.43v-0.01M649.7 402.49v-0.01M649.7 398.55v-0.01M649.7 394.61v-0.01M649.7 390.68v-0.01M652.3 430.05v-0.01M652.3 426.11v-0.01M652.3 422.18v-0.01M652.3 418.24v-0.01M652.3 414.30v-0.01M655.5 430.05v-0.01M655.5 426.11v-0.01M655.5 422.18v-0.01M655.5 418.24v-0.01M655.5 414.30v-0.01M655.5 410.36v-0.01M655.5 406.43v-0.01M655.5 402.49v-0.01M655.5 398.55v-0.01M655.5 394.61v-0.01M655.5 390.68v-0.01M655.5 386.74v-0.01M655.5 382.80v-0.01M655.5 378.86v-0.01M658.3 430.05v-0.01M658.3 426.11v-0.01M658.3 422.18v-0.01M658.3 418.24v-0.01M658.3 414.30v-0.01M658.3 410.36v-0.01M658.3 406.43v-0.01M658.3 402.49v-0.01M658.3 398.55v-0.01M658.3 394.61v-0.01M661.2 430.05v-0.01M661.2 426.11v-0.01M661.2 422.18v-0.01M661.2 418.24v-0.01M661.2 414.30v-0.01M661.2 410.36v-0.01M661.2 406.43v-0.01M661.2 402.49v-0.01M661.2 398.55v-0.01M661.2 394.61v-0.01M661.2 390.68v-0.01M665.2 430.05v-0.01M665.2 426.11v-0.01M665.2 422.18v-0.01M665.2 418.24v-0.01M665.2 414.30v-0.01M665.2 410.36v-0.01M669.1 430.05v-0.01M669.1 426.11v-0.01M669.1 422.18v-0.01M669.1 418.24v-0.01M669.1 414.30v-0.01M669.1 410.36v-0.01M669.1 406.43v-0.01M669.1 402.49v-0.01M672.0 430.05v-0.01M672.0 426.11v-0.01M672.0 422.18v-0.01M672.0 418.24v-0.01M672.0 414.30v-0.01M672.0 410.36v-0.01M672.0 406.43v-0.01M672.0 402.49v-0.01M672.0 398.55v-0.01M675.6 430.05v-0.01M675.6 426.11v-0.01M675.6 422.18v-0.01M675.6 418.24v-0.01M675.6 414.30v-0.01M675.6 410.36v-0.01M675.6 406.43v-0.01M675.6 402.49v-0.01M675.6 398.55v-0.01M675.6 394.61v-0.01M675.6 390.68v-0.01M675.6 386.74v-0.01M675.6 382.80v-0.01M679.1 430.05v-0.01M679.1 426.11v-0.01M679.1 422.18v-0.01M679.1 418.24v-0.01M679.1 414.30v-0.01M679.1 410.36v-0.01M679.1 406.43v-0.01M679.1 402.49v-0.01M679.1 398.55v-0.01M681.3 430.05v-0.01M681.3 426.11v-0.01M681.3 422.18v-0.01M681.3 418.24v-0.01M681.3 414.30v-0.01M684.2 430.05v-0.01M684.2 426.11v-0.01M684.2 422.18v-0.01M684.2 418.24v-0.01M684.2 414.30v-0.01M684.2 410.36v-0.01M684.2 406.43v-0.01M684.2 402.49v-0.01M684.2 398.55v-0.01M684.2 394.61v-0.01M684.2 390.68v-0.01M684.2 386.74v-0.01M687.3 430.05v-0.01M687.3 426.11v-0.01M687.3 422.18v-0.01M687.3 418.24v-0.01M687.3 414.30v-0.01M687.3 410.36v-0.01M687.3 406.43v-0.01M687.3 402.49v-0.01M687.3 398.55v-0.01M687.3 394.61v-0.01M687.3 390.68v-0.01M687.3 386.74v-0.01M687.3 382.80v-0.01M687.3 378.86v-0.01" fill="none" stroke="#a6a6a6" stroke-width="4.4" stroke-linecap="round"/>
</g>
<path d="M465.7 300.5V349.4H719.7" fill="none" stroke="#000" stroke-width="2.4" stroke-linejoin="miter"/>
<path d="M465.59999999999997 300.5V350.59999999999997" fill="none" stroke="#000" stroke-width="2.6999999999999997"/>
<path d="M496.2 349.4v2.70M592.3 349.4v2.70M688.8 349.4v2.70M465.7 346.1h-2.20M465.7 335.3h-2.20M465.7 324.5h-2.20M465.7 313.7h-2.20M465.7 302.9h-2.20" fill="none" stroke="#000" stroke-width="1.7"/>
<text x="496.0" y="364.15" font-size="14.9" stroke="#000" stroke-width="0.3" text-anchor="middle" fill="#000">0.0</text>
<text x="592.3" y="364.15" font-size="14.9" stroke="#000" stroke-width="0.3" text-anchor="middle" fill="#000">0.5</text>
<text x="688.8" y="364.15" font-size="14.9" stroke="#000" stroke-width="0.3" text-anchor="middle" fill="#000">1.0</text>
<text x="592.6" y="377.8" font-size="14.6" stroke="#000" stroke-width="0.3" text-anchor="middle" fill="#000">Timing Scale</text>
<text x="412.8" y="337.6" font-size="16" font-weight="bold" text-anchor="start" fill="#000" letter-spacing="0.55">SNV3</text>
<path d="M854.0 209.2C854.3 209.1 855.2 209.1 855.8 209.0C856.4 208.9 857.1 208.9 857.7 208.8C858.3 208.7 858.9 208.6 859.5 208.5C860.2 208.4 860.8 208.3 861.4 208.2C862.0 208.1 862.6 208.0 863.2 207.8C863.9 207.7 864.5 207.5 865.1 207.3C865.7 207.1 866.3 206.9 867.0 206.7C867.6 206.4 868.2 206.1 868.8 205.8C869.4 205.5 870.0 205.1 870.7 204.7C871.3 204.2 871.9 203.8 872.5 203.2C873.1 202.7 873.7 202.1 874.4 201.4C875.0 200.7 875.6 199.9 876.2 199.1C876.8 198.3 877.5 197.3 878.1 196.4C878.7 195.4 879.3 194.4 879.9 193.3C880.5 192.2 881.2 191.0 881.8 189.9C882.4 188.8 883.0 187.6 883.6 186.4C884.3 185.3 884.9 184.2 885.5 183.1C886.1 182.1 886.7 181.1 887.3 180.2C888.0 179.4 888.6 178.6 889.2 178.0C889.8 177.4 890.4 176.9 891.1 176.7C891.7 176.4 892.3 176.3 892.9 176.4C893.5 176.5 894.1 176.7 894.8 177.2C895.4 177.6 896.0 178.2 896.6 178.9C897.2 179.6 897.9 180.5 898.5 181.5C899.1 182.4 899.7 183.5 900.3 184.6C900.9 185.7 901.6 186.9 902.2 188.0C902.8 189.2 903.4 190.3 904.0 191.5C904.7 192.6 905.3 193.7 905.9 194.7C906.5 195.8 907.1 196.7 907.7 197.7C908.4 198.6 909.0 199.4 909.6 200.2C910.2 200.9 910.8 201.6 911.4 202.2C912.1 202.9 912.7 203.4 913.3 203.9C913.9 204.4 914.5 204.8 915.2 205.2C915.8 205.6 916.4 205.9 917.0 206.2C917.6 206.5 918.2 206.7 918.9 207.0C919.5 207.2 920.1 207.4 920.7 207.6C921.3 207.7 922.0 207.9 922.6 208.0C923.2 208.1 923.8 208.3 924.4 208.4C925.0 208.5 925.7 208.6 926.3 208.7C926.9 208.7 927.8 208.9 928.1 208.9L928.1 210.1L854.0 210.1Z" fill="#5b8ad0" stroke="#5b8ad0" stroke-width="0.7" stroke-linejoin="round"/>
<clipPath id="cb"><rect x="840" y="168.2" width="100" height="90"/></clipPath>
<g clip-path="url(#cb)">
<path d="M857.8 246.5V240.3M864.7 246.5V243.4M867.8 246.5V243.4M870.2 246.5V237.2M873.8 246.5V218.6M877.4 246.5V231.0M880.5 246.5V209.3M884.4 246.5V178.3M887.7 246.5V178.3M890.3 246.5V187.6M893.4 246.5V169.0M897.3 246.5V193.8M901.3 246.5V181.4M904.5 246.5V218.6M908.3 246.5V227.9M911.2 246.5V227.9M914.3 246.5V237.2M922.6 246.5V240.3" fill="none" stroke="#a6a6a6" stroke-width="3.60" stroke-linecap="butt"/>
<path transform="scale(1 0.8)" d="M854.2 308.18v-0.01M857.8 308.18v-0.01M857.8 304.30v-0.01M857.8 300.43v-0.01M864.7 308.18v-0.01M864.7 304.30v-0.01M867.8 308.18v-0.01M867.8 304.30v-0.01M870.2 308.18v-0.01M870.2 304.30v-0.01M870.2 300.43v-0.01M870.2 296.55v-0.01M873.8 308.18v-0.01M873.8 304.30v-0.01M873.8 300.43v-0.01M873.8 296.55v-0.01M873.8 292.68v-0.01M873.8 288.80v-0.01M873.8 284.93v-0.01M873.8 281.05v-0.01M873.8 277.18v-0.01M873.8 273.30v-0.01M877.4 308.18v-0.01M877.4 304.30v-0.01M877.4 300.43v-0.01M877.4 296.55v-0.01M877.4 292.68v-0.01M877.4 288.80v-0.01M880.5 308.18v-0.01M880.5 304.30v-0.01M880.5 300.43v-0.01M880.5 296.55v-0.01M880.5 292.68v-0.01M880.5 288.80v-0.01M880.5 284.93v-0.01M880.5 281.05v-0.01M880.5 277.18v-0.01M880.5 273.30v-0.01M880.5 269.43v-0.01M880.5 265.55v-0.01M880.5 261.68v-0.01M884.4 308.18v-0.01M884.4 304.30v-0.01M884.4 300.43v-0.01M884.4 296.55v-0.01M884.4 292.68v-0.01M884.4 288.80v-0.01M884.4 284.93v-0.01M884.4 281.05v-0.01M884.4 277.18v-0.01M884.4 273.30v-0.01M884.4 269.43v-0.01M884.4 265.55v-0.01M884.4 261.68v-0.01M884.4 257.80v-0.01M884.4 253.93v-0.01M884.4 250.05v-0.01M884.4 246.18v-0.01M884.4 242.30v-0.01M884.4 238.43v-0.01M884.4 234.55v-0.01M884.4 230.68v-0.01M884.4 226.80v-0.01M884.4 222.93v-0.01M887.7 308.18v-0.01M887.7 304.30v-0.01M887.7 300.43v-0.01M887.7 296.55v-0.01M887.7 292.68v-0.01M887.7 288.80v-0.01M887.7 284.93v-0.01M887.7 281.05v-0.01M887.7 277.18v-0.01M887.7 273.30v-0.01M887.7 269.43v-0.01M887.7 265.55v-0.01M887.7 261.68v-0.01M887.7 257.80v-0.01M887.7 253.93v-0.01M887.7 250.05v-0.01M887.7 246.18v-0.01M887.7 242.30v-0.01M887.7 238.43v-0.01M887.7 234.55v-0.01M887.7 230.68v-0.01M887.7 226.80v-0.01M887.7 222.93v-0.01M890.3 308.18v-0.01M890.3 304.30v-0.01M890.3 300.43v-0.01M890.3 296.55v-0.01M890.3 292.68v-0.01M890.3 288.80v-0.01M890.3 284.93v-0.01M890.3 281.05v-0.01M890.3 277.18v-0.01M890.3 273.30v-0.01M890.3 269.43v-0.01M890.3 265.55v-0.01M890.3 261.68v-0.01M890.3 257.80v-0.01M890.3 253.93v-0.01M890.3 250.05v-0.01M890.3 246.18v-0.01M890.3 242.30v-0.01M890.3 238.43v-0.01M890.3 234.55v-0.01M893.4 308.18v-0.01M893.4 304.30v-0.01M893.4 300.43v-0.01M893.4 296.55v-0.01M893.4 292.68v-0.01M893.4 288.80v-0.01M893.4 284.93v-0.01M893.4 281.05v-0.01M893.4 277.18v-0.01M893.4 273.30v-0.01M893.4 269.43v-0.01M893.4 265.55v-0.01M893.4 261.68v-0.01M893.4 257.80v-0.01M893.4 253.93v-0.01M893.4 250.05v-0.01M893.4 246.18v-0.01M893.4 242.30v-0.01M893.4 238.43v-0.01M893.4 234.55v-0.01M893.4 230.68v-0.01M893.4 226.80v-0.01M893.4 222.93v-0.01M893.4 219.05v-0.01M893.4 215.18v-0.01M893.4 211.30v-0.01M897.3 308.18v-0.01M897.3 304.30v-0.01M897.3 300.43v-0.01M897.3 296.55v-0.01M897.3 292.68v-0.01M897.3 288.80v-0.01M897.3 284.93v-0.01M897.3 281.05v-0.01M897.3 277.18v-0.01M897.3 273.30v-0.01M897.3 269.43v-0.01M897.3 265.55v-0.01M897.3 261.68v-0.01M897.3 257.80v-0.01M897.3 253.93v-0.01M897.3 250.05v-0.01M897.3 246.18v-0.01M897.3 242.30v-0.01M901.3 308.18v-0.01M901.3 304.30v-0.01M901.3 300.43v-0.01M901.3 296.55v-0.01M901.3 292.68v-0.01M901.3 288.80v-0.01M901.3 284.93v-0.01M901.3 281.05v-0.01M901.3 277.18v-0.01M901.3 273.30v-0.01M901.3 269.43v-0.01M901.3 265.55v-0.01M901.3 261.68v-0.01M901.3 257.80v-0.01M901.3 253.93v-0.01M901.3 250.05v-0.01M901.3 246.18v-0.01M901.3 242.30v-0.01M901.3 238.43v-0.01M901.3 234.55v-0.01M901.3 230.68v-0.01M901.3 226.80v-0.01M904.5 308.18v-0.01M904.5 304.30v-0.01M904.5 300.43v-0.01M904.5 296.55v-0.01M904.5 292.68v-0.01M904.5 288.80v-0.01M904.5 284.93v-0.01M904.5 281.05v-0.01M904.5 277.18v-0.01M904.5 273.30v-0.01M908.3 308.18v-0.01M908.3 304.30v-0.01M908.3 300.43v-0.01M908.3 296.55v-0.01M908.3 292.68v-0.01M908.3 288.80v-0.01M908.3 284.93v-0.01M911.2 308.18v-0.01M911.2 304.30v-0.01M911.2 300.43v-0.01M911.2 296.55v-0.01M911.2 292.68v-0.01M911.2 288.80v-0.01M911.2 284.93v-0.01M914.3 308.18v-0.01M914.3 304.30v-0.01M914.3 300.43v-0.01M914.3 296.55v-0.01M917.4 308.18v-0.01M922.6 308.18v-0.01M922.6 304.30v-0.01M922.6 300.43v-0.01M928.1 308.18v-0.01" fill="none" stroke="#a6a6a6" stroke-width="4.4" stroke-linecap="round"/>
</g>
<path d="M766.8 168.5V255.6H997.8" fill="none" stroke="#000" stroke-width="2.5" stroke-linejoin="miter"/>
<path d="M766.6999999999999 168.5V256.85" fill="none" stroke="#000" stroke-width="2.8"/>
<path d="M794.6 255.6v2.75M882.2 255.6v2.75M969.8 255.6v2.75M766.8 172.4h-2.25M766.8 191.2h-2.25M766.8 210.1h-2.25M766.8 229.0h-2.25M766.8 247.9h-2.25" fill="none" stroke="#000" stroke-width="1.7"/>
<text x="794.4" y="269.3" font-size="13.6" stroke="#000" stroke-width="0.3" text-anchor="middle" fill="#000">0.0</text>
<text x="881.9" y="269.3" font-size="13.6" stroke="#000" stroke-width="0.3" text-anchor="middle" fill="#000">0.5</text>
<text x="969.6" y="269.3" font-size="13.6" stroke="#000" stroke-width="0.3" text-anchor="middle" fill="#000">1.0</text>
<text x="882.2" y="283.4" font-size="13.9" stroke="#000" stroke-width="0.3" text-anchor="middle" fill="#000">Timing Scale</text>
<path d="M1235.6 73.0V76.0M1235.6 98.8V109.6M1235.6 117.5V125.3" stroke="#000" stroke-width="2.3" fill="none"/>
<path d="M1143.0 90.2C1145.4 89.4 1152.6 87.1 1157.4 85.2C1162.2 83.3 1167.9 80.1 1171.7 78.8C1175.6 77.4 1176.8 77.4 1180.3 77.3C1183.9 77.2 1189.0 78.1 1193.3 78.0C1197.6 78.0 1202.6 77.0 1206.2 77.0C1209.8 77.0 1211.0 76.9 1214.8 78.0C1218.6 79.2 1224.3 81.6 1229.1 83.8C1233.9 85.9 1239.2 89.0 1243.5 91.0C1247.8 92.9 1251.7 94.4 1254.9 95.3C1258.2 96.1 1261.7 96.0 1263.0 96.1L1263.0 96.7L1143.0 96.7Z" fill="#c1668f" stroke="#c1668f" stroke-width="0.7" stroke-linejoin="round"/>
<path d="M1144.2 117.4V109.9M1145.9 117.4V109.9M1151.6 117.4V107.4M1154.7 117.4V107.4M1158.0 117.4V107.4M1160.9 117.4V104.9M1163.9 117.4V102.4M1166.8 117.4V97.4M1169.9 117.4V94.9M1173.1 117.4V99.9M1176.3 117.4V99.9M1179.6 117.4V97.4M1183.9 117.4V89.9M1187.5 117.4V99.9M1190.6 117.4V99.9M1192.8 117.4V99.9M1197.2 117.4V92.4M1200.4 117.4V94.9M1203.6 117.4V97.4M1206.9 117.4V94.9M1209.7 117.4V97.4M1213.0 117.4V99.9M1215.5 117.4V89.9M1218.7 117.4V99.9M1221.6 117.4V107.4M1224.3 117.4V102.4M1226.9 117.4V99.9M1229.9 117.4V109.9M1232.6 117.4V94.9M1236.1 117.4V107.4M1238.4 117.4V107.4M1242.4 117.4V112.4M1245.6 117.4V114.9M1248.9 117.4V112.4M1250.5 117.4V114.9" fill="none" stroke="#a6a6a6" stroke-width="3.80" stroke-linecap="butt"/>
<path transform="scale(1 0.68)" d="M1144.2 172.70v-0.01M1144.2 169.02v-0.01M1144.2 165.35v-0.01M1144.2 161.67v-0.01M1145.9 172.70v-0.01M1145.9 169.02v-0.01M1145.9 165.35v-0.01M1145.9 161.67v-0.01M1151.6 172.70v-0.01M1151.6 169.02v-0.01M1151.6 165.35v-0.01M1151.6 161.67v-0.01M1151.6 157.99v-0.01M1154.7 172.70v-0.01M1154.7 169.02v-0.01M1154.7 165.35v-0.01M1154.7 161.67v-0.01M1154.7 157.99v-0.01M1158.0 172.70v-0.01M1158.0 169.02v-0.01M1158.0 165.35v-0.01M1158.0 161.67v-0.01M1158.0 157.99v-0.01M1160.9 172.70v-0.01M1160.9 169.02v-0.01M1160.9 165.35v-0.01M1160.9 161.67v-0.01M1160.9 157.99v-0.01M1160.9 154.32v-0.01M1163.9 172.70v-0.01M1163.9 169.02v-0.01M1163.9 165.35v-0.01M1163.9 161.67v-0.01M1163.9 157.99v-0.01M1163.9 154.32v-0.01M1163.9 150.64v-0.01M1166.8 172.70v-0.01M1166.8 169.02v-0.01M1166.8 165.35v-0.01M1166.8 161.67v-0.01M1166.8 157.99v-0.01M1166.8 154.32v-0.01M1166.8 150.64v-0.01M1166.8 146.96v-0.01M1166.8 143.29v-0.01M1169.9 172.70v-0.01M1169.9 169.02v-0.01M1169.9 165.35v-0.01M1169.9 161.67v-0.01M1169.9 157.99v-0.01M1169.9 154.32v-0.01M1169.9 150.64v-0.01M1169.9 146.96v-0.01M1169.9 143.29v-0.01M1169.9 139.61v-0.01M1173.1 172.70v-0.01M1173.1 169.02v-0.01M1173.1 165.35v-0.01M1173.1 161.67v-0.01M1173.1 157.99v-0.01M1173.1 154.32v-0.01M1173.1 150.64v-0.01M1173.1 146.96v-0.01M1176.3 172.70v-0.01M1176.3 169.02v-0.01M1176.3 165.35v-0.01M1176.3 161.67v-0.01M1176.3 157.99v-0.01M1176.3 154.32v-0.01M1176.3 150.64v-0.01M1176.3 146.96v-0.01M1179.6 172.70v-0.01M1179.6 169.02v-0.01M1179.6 165.35v-0.01M1179.6 161.67v-0.01M1179.6 157.99v-0.01M1179.6 154.32v-0.01M1179.6 150.64v-0.01M1179.6 146.96v-0.01M1179.6 143.29v-0.01M1183.9 172.70v-0.01M1183.9 169.02v-0.01M1183.9 165.35v-0.01M1183.9 161.67v-0.01M1183.9 157.99v-0.01M1183.9 154.32v-0.01M1183.9 150.64v-0.01M1183.9 146.96v-0.01M1183.9 143.29v-0.01M1183.9 139.61v-0.01M1183.9 135.94v-0.01M1183.9 132.26v-0.01M1187.5 172.70v-0.01M1187.5 169.02v-0.01M1187.5 165.35v-0.01M1187.5 161.67v-0.01M1187.5 157.99v-0.01M1187.5 154.32v-0.01M1187.5 150.64v-0.01M1187.5 146.96v-0.01M1190.6 172.70v-0.01M1190.6 169.02v-0.01M1190.6 165.35v-0.01M1190.6 161.67v-0.01M1190.6 157.99v-0.01M1190.6 154.32v-0.01M1190.6 150.64v-0.01M1190.6 146.96v-0.01M1192.8 172.70v-0.01M1192.8 169.02v-0.01M1192.8 165.35v-0.01M1192.8 161.67v-0.01M1192.8 157.99v-0.01M1192.8 154.32v-0.01M1192.8 150.64v-0.01M1192.8 146.96v-0.01M1197.2 172.70v-0.01M1197.2 169.02v-0.01M1197.2 165.35v-0.01M1197.2 161.67v-0.01M1197.2 157.99v-0.01M1197.2 154.32v-0.01M1197.2 150.64v-0.01M1197.2 146.96v-0.01M1197.2 143.29v-0.01M1197.2 139.61v-0.01M1197.2 135.94v-0.01M1200.4 172.70v-0.01M1200.4 169.02v-0.01M1200.4 165.35v-0.01M1200.4 161.67v-0.01M1200.4 157.99v-0.01M1200.4 154.32v-0.01M1200.4 150.64v-0.01M1200.4 146.96v-0.01M1200.4 143.29v-0.01M1200.4 139.61v-0.01M1203.6 172.70v-0.01M1203.6 169.02v-0.01M1203.6 165.35v-0.01M1203.6 161.67v-0.01M1203.6 157.99v-0.01M1203.6 154.32v-0.01M1203.6 150.64v-0.01M1203.6 146.96v-0.01M1203.6 143.29v-0.01M1206.9 172.70v-0.01M1206.9 169.02v-0.01M1206.9 165.35v-0.01M1206.9 161.67v-0.01M1206.9 157.99v-0.01M1206.9 154.32v-0.01M1206.9 150.64v-0.01M1206.9 146.96v-0.01M1206.9 143.29v-0.01M1206.9 139.61v-0.01M1209.7 172.70v-0.01M1209.7 169.02v-0.01M1209.7 165.35v-0.01M1209.7 161.67v-0.01M1209.7 157.99v-0.01M1209.7 154.32v-0.01M1209.7 150.64v-0.01M1209.7 146.96v-0.01M1209.7 143.29v-0.01M1213.0 172.70v-0.01M1213.0 169.02v-0.01M1213.0 165.35v-0.01M1213.0 161.67v-0.01M1213.0 157.99v-0.01M1213.0 154.32v-0.01M1213.0 150.64v-0.01M1213.0 146.96v-0.01M1215.5 172.70v-0.01M1215.5 169.02v-0.01M1215.5 165.35v-0.01M1215.5 161.67v-0.01M1215.5 157.99v-0.01M1215.5 154.32v-0.01M1215.5 150.64v-0.01M1215.5 146.96v-0.01M1215.5 143.29v-0.01M1215.5 139.61v-0.01M1215.5 135.94v-0.01M1215.5 132.26v-0.01M1218.7 172.70v-0.01M1218.7 169.02v-0.01M1218.7 165.35v-0.01M1218.7 161.67v-0.01M1218.7 157.99v-0.01M1218.7 154.32v-0.01M1218.7 150.64v-0.01M1218.7 146.96v-0.01M1221.6 172.70v-0.01M1221.6 169.02v-0.01M1221.6 165.35v-0.01M1221.6 161.67v-0.01M1221.6 157.99v-0.01M1224.3 172.70v-0.01M1224.3 169.02v-0.01M1224.3 165.35v-0.01M1224.3 161.67v-0.01M1224.3 157.99v-0.01M1224.3 154.32v-0.01M1224.3 150.64v-0.01M1226.9 172.70v-0.01M1226.9 169.02v-0.01M1226.9 165.35v-0.01M1226.9 161.67v-0.01M1226.9 157.99v-0.01M1226.9 154.32v-0.01M1226.9 150.64v-0.01M1226.9 146.96v-0.01M1229.9 172.70v-0.01M1229.9 169.02v-0.01M1229.9 165.35v-0.01M1229.9 161.67v-0.01M1232.6 172.70v-0.01M1232.6 169.02v-0.01M1232.6 165.35v-0.01M1232.6 161.67v-0.01M1232.6 157.99v-0.01M1232.6 154.32v-0.01M1232.6 150.64v-0.01M1232.6 146.96v-0.01M1232.6 143.29v-0.01M1232.6 139.61v-0.01M1236.1 172.70v-0.01M1236.1 169.02v-0.01M1236.1 165.35v-0.01M1236.1 161.67v-0.01M1236.1 157.99v-0.01M1238.4 172.70v-0.01M1238.4 169.02v-0.01M1238.4 165.35v-0.01M1238.4 161.67v-0.01M1238.4 157.99v-0.01M1242.4 172.70v-0.01M1242.4 169.02v-0.01M1242.4 165.35v-0.01M1245.6 172.70v-0.01M1245.6 169.02v-0.01M1248.9 172.70v-0.01M1248.9 169.02v-0.01M1248.9 165.35v-0.01M1250.5 172.70v-0.01M1250.5 169.02v-0.01" fill="none" stroke="#a6a6a6" stroke-width="4.6" stroke-linecap="round"/>
<path d="M1262.6 116.6v-0.01" fill="none" stroke="#a6a6a6" stroke-width="3.5" stroke-linecap="round"/>
<path d="M1108.6 72.5V122.15H1362.5" fill="none" stroke="#000" stroke-width="2.4" stroke-linejoin="miter"/>
<path d="M1108.5 72.5V123.35000000000001" fill="none" stroke="#000" stroke-width="2.6999999999999997"/>
<path d="M1158.8 122.15v2.70M1235.7 122.15v2.70M1312.7 122.15v2.70M1108.6 118.8h-2.20M1108.6 108.0h-2.20M1108.6 97.2h-2.20M1108.6 86.3h-2.20M1108.6 75.5h-2.20" fill="none" stroke="#000" stroke-width="1.7"/>
<text x="1158.2" y="136.4" font-size="14.9" stroke="#000" stroke-width="0.3" text-anchor="middle" fill="#000">−0.5</text>
<text x="1235.7" y="136.4" font-size="14.9" stroke="#000" stroke-width="0.3" text-anchor="middle" fill="#000">0.0</text>
<text x="1312.4" y="136.4" font-size="14.9" stroke="#000" stroke-width="0.3" text-anchor="middle" fill="#000">0.5</text>
<text x="1236.5" y="151.0" font-size="14.4" stroke="#000" stroke-width="0.3" text-anchor="middle" fill="#000">Timing Difference</text>
<text x="1056.6" y="99.7" font-size="16" font-weight="bold" text-anchor="start" fill="#000">SNV1</text>
<path d="M1235.6 190.3V193.8M1235.6 236.5V242.6" stroke="#000" stroke-width="2.3" fill="none"/>
<path d="M1135.2 213.3C1137.7 212.8 1145.3 211.6 1150.2 210.1C1155.1 208.6 1159.8 206.2 1164.6 204.4C1169.3 202.6 1174.1 200.7 1178.9 199.4C1183.7 198.1 1189.2 196.9 1193.3 196.5C1197.3 196.1 1199.7 196.7 1203.3 196.9C1206.9 197.2 1211.0 198.1 1214.8 197.9C1218.6 197.8 1222.7 196.6 1226.3 196.1C1229.8 195.5 1232.7 194.8 1236.3 194.8C1239.9 194.7 1245.7 195.5 1247.8 195.8C1249.8 196.1 1246.2 196.0 1248.7 196.5C1251.2 197.0 1258.3 198.5 1263.0 198.9C1267.8 199.4 1273.8 198.8 1277.4 199.1C1281.0 199.4 1281.7 199.7 1284.6 200.8C1287.4 201.9 1291.1 204.2 1294.6 205.8C1298.1 207.4 1303.6 209.7 1305.4 210.4L1305.4 214.1L1135.2 214.1Z" fill="#c1668f" stroke="#c1668f" stroke-width="0.7" stroke-linejoin="round"/>
<path d="M1135.5 234.2v-0.01M1151.2 234.2v-0.01M1305.2 234.2v-0.01" fill="none" stroke="#a6a6a6" stroke-width="3.8" stroke-linecap="round"/>
<path d="M1155.2 234.7V232.2M1158.8 234.7V224.7M1163.8 234.7V224.7M1168.1 234.7V227.2M1171.7 234.7V222.2M1175.3 234.7V227.2M1178.9 234.7V227.2M1182.5 234.7V222.2M1186.1 234.7V219.7M1189.0 234.7V224.7M1191.8 234.7V217.2M1194.7 234.7V219.7M1197.6 234.7V227.2M1200.4 234.7V222.2M1205.5 234.7V219.7M1209.0 234.7V224.7M1212.6 234.7V229.7M1215.9 234.7V219.7M1219.1 234.7V229.7M1223.1 234.7V222.2M1226.3 234.7V227.2M1229.8 234.7V222.2M1233.4 234.7V214.7M1236.3 234.7V217.2M1239.9 234.7V222.2M1243.5 234.7V217.2M1246.3 234.7V219.7M1249.9 234.7V229.7M1253.5 234.7V227.2M1257.1 234.7V222.2M1260.2 234.7V222.2M1264.5 234.7V227.2M1268.1 234.7V229.7M1270.9 234.7V224.7M1273.5 234.7V222.2M1276.0 234.7V214.7M1278.5 234.7V222.2M1281.0 234.7V217.2M1284.6 234.7V222.2M1287.4 234.7V229.7M1290.3 234.7V227.2M1293.2 234.7V229.7M1296.0 234.7V227.2M1299.2 234.7V232.2" fill="none" stroke="#a6a6a6" stroke-width="3.80" stroke-linecap="butt"/>
<path transform="scale(1 0.68)" d="M1155.2 345.20v-0.01M1155.2 341.52v-0.01M1158.8 345.20v-0.01M1158.8 341.52v-0.01M1158.8 337.85v-0.01M1158.8 334.17v-0.01M1158.8 330.49v-0.01M1163.8 345.20v-0.01M1163.8 341.52v-0.01M1163.8 337.85v-0.01M1163.8 334.17v-0.01M1163.8 330.49v-0.01M1168.1 345.20v-0.01M1168.1 341.52v-0.01M1168.1 337.85v-0.01M1168.1 334.17v-0.01M1171.7 345.20v-0.01M1171.7 341.52v-0.01M1171.7 337.85v-0.01M1171.7 334.17v-0.01M1171.7 330.49v-0.01M1171.7 326.82v-0.01M1175.3 345.20v-0.01M1175.3 341.52v-0.01M1175.3 337.85v-0.01M1175.3 334.17v-0.01M1178.9 345.20v-0.01M1178.9 341.52v-0.01M1178.9 337.85v-0.01M1178.9 334.17v-0.01M1182.5 345.20v-0.01M1182.5 341.52v-0.01M1182.5 337.85v-0.01M1182.5 334.17v-0.01M1182.5 330.49v-0.01M1182.5 326.82v-0.01M1186.1 345.20v-0.01M1186.1 341.52v-0.01M1186.1 337.85v-0.01M1186.1 334.17v-0.01M1186.1 330.49v-0.01M1186.1 326.82v-0.01M1186.1 323.14v-0.01M1189.0 345.20v-0.01M1189.0 341.52v-0.01M1189.0 337.85v-0.01M1189.0 334.17v-0.01M1189.0 330.49v-0.01M1191.8 345.20v-0.01M1191.8 341.52v-0.01M1191.8 337.85v-0.01M1191.8 334.17v-0.01M1191.8 330.49v-0.01M1191.8 326.82v-0.01M1191.8 323.14v-0.01M1191.8 319.46v-0.01M1194.7 345.20v-0.01M1194.7 341.52v-0.01M1194.7 337.85v-0.01M1194.7 334.17v-0.01M1194.7 330.49v-0.01M1194.7 326.82v-0.01M1194.7 323.14v-0.01M1197.6 345.20v-0.01M1197.6 341.52v-0.01M1197.6 337.85v-0.01M1197.6 334.17v-0.01M1200.4 345.20v-0.01M1200.4 341.52v-0.01M1200.4 337.85v-0.01M1200.4 334.17v-0.01M1200.4 330.49v-0.01M1200.4 326.82v-0.01M1205.5 345.20v-0.01M1205.5 341.52v-0.01M1205.5 337.85v-0.01M1205.5 334.17v-0.01M1205.5 330.49v-0.01M1205.5 326.82v-0.01M1205.5 323.14v-0.01M1209.0 345.20v-0.01M1209.0 341.52v-0.01M1209.0 337.85v-0.01M1209.0 334.17v-0.01M1209.0 330.49v-0.01M1212.6 345.20v-0.01M1212.6 341.52v-0.01M1212.6 337.85v-0.01M1215.9 345.20v-0.01M1215.9 341.52v-0.01M1215.9 337.85v-0.01M1215.9 334.17v-0.01M1215.9 330.49v-0.01M1215.9 326.82v-0.01M1215.9 323.14v-0.01M1219.1 345.20v-0.01M1219.1 341.52v-0.01M1219.1 337.85v-0.01M1223.1 345.20v-0.01M1223.1 341.52v-0.01M1223.1 337.85v-0.01M1223.1 334.17v-0.01M1223.1 330.49v-0.01M1223.1 326.82v-0.01M1226.3 345.20v-0.01M1226.3 341.52v-0.01M1226.3 337.85v-0.01M1226.3 334.17v-0.01M1229.8 345.20v-0.01M1229.8 341.52v-0.01M1229.8 337.85v-0.01M1229.8 334.17v-0.01M1229.8 330.49v-0.01M1229.8 326.82v-0.01M1233.4 345.20v-0.01M1233.4 341.52v-0.01M1233.4 337.85v-0.01M1233.4 334.17v-0.01M1233.4 330.49v-0.01M1233.4 326.82v-0.01M1233.4 323.14v-0.01M1233.4 319.46v-0.01M1233.4 315.79v-0.01M1236.3 345.20v-0.01M1236.3 341.52v-0.01M1236.3 337.85v-0.01M1236.3 334.17v-0.01M1236.3 330.49v-0.01M1236.3 326.82v-0.01M1236.3 323.14v-0.01M1236.3 319.46v-0.01M1239.9 345.20v-0.01M1239.9 341.52v-0.01M1239.9 337.85v-0.01M1239.9 334.17v-0.01M1239.9 330.49v-0.01M1239.9 326.82v-0.01M1243.5 345.20v-0.01M1243.5 341.52v-0.01M1243.5 337.85v-0.01M1243.5 334.17v-0.01M1243.5 330.49v-0.01M1243.5 326.82v-0.01M1243.5 323.14v-0.01M1243.5 319.46v-0.01M1246.3 345.20v-0.01M1246.3 341.52v-0.01M1246.3 337.85v-0.01M1246.3 334.17v-0.01M1246.3 330.49v-0.01M1246.3 326.82v-0.01M1246.3 323.14v-0.01M1249.9 345.20v-0.01M1249.9 341.52v-0.01M1249.9 337.85v-0.01M1253.5 345.20v-0.01M1253.5 341.52v-0.01M1253.5 337.85v-0.01M1253.5 334.17v-0.01M1257.1 345.20v-0.01M1257.1 341.52v-0.01M1257.1 337.85v-0.01M1257.1 334.17v-0.01M1257.1 330.49v-0.01M1257.1 326.82v-0.01M1260.2 345.20v-0.01M1260.2 341.52v-0.01M1260.2 337.85v-0.01M1260.2 334.17v-0.01M1260.2 330.49v-0.01M1260.2 326.82v-0.01M1264.5 345.20v-0.01M1264.5 341.52v-0.01M1264.5 337.85v-0.01M1264.5 334.17v-0.01M1268.1 345.20v-0.01M1268.1 341.52v-0.01M1268.1 337.85v-0.01M1270.9 345.20v-0.01M1270.9 341.52v-0.01M1270.9 337.85v-0.01M1270.9 334.17v-0.01M1270.9 330.49v-0.01M1273.5 345.20v-0.01M1273.5 341.52v-0.01M1273.5 337.85v-0.01M1273.5 334.17v-0.01M1273.5 330.49v-0.01M1273.5 326.82v-0.01M1276.0 345.20v-0.01M1276.0 341.52v-0.01M1276.0 337.85v-0.01M1276.0 334.17v-0.01M1276.0 330.49v-0.01M1276.0 326.82v-0.01M1276.0 323.14v-0.01M1276.0 319.46v-0.01M1276.0 315.79v-0.01M1278.5 345.20v-0.01M1278.5 341.52v-0.01M1278.5 337.85v-0.01M1278.5 334.17v-0.01M1278.5 330.49v-0.01M1278.5 326.82v-0.01M1281.0 345.20v-0.01M1281.0 341.52v-0.01M1281.0 337.85v-0.01M1281.0 334.17v-0.01M1281.0 330.49v-0.01M1281.0 326.82v-0.01M1281.0 323.14v-0.01M1281.0 319.46v-0.01M1284.6 345.20v-0.01M1284.6 341.52v-0.01M1284.6 337.85v-0.01M1284.6 334.17v-0.01M1284.6 330.49v-0.01M1284.6 326.82v-0.01M1287.4 345.20v-0.01M1287.4 341.52v-0.01M1287.4 337.85v-0.01M1290.3 345.20v-0.01M1290.3 341.52v-0.01M1290.3 337.85v-0.01M1290.3 334.17v-0.01M1293.2 345.20v-0.01M1293.2 341.52v-0.01M1293.2 337.85v-0.01M1296.0 345.20v-0.01M1296.0 341.52v-0.01M1296.0 337.85v-0.01M1296.0 334.17v-0.01M1299.2 345.20v-0.01M1299.2 341.52v-0.01" fill="none" stroke="#a6a6a6" stroke-width="4.6" stroke-linecap="round"/>
<path d="M1108.6 190.6V239.3H1362.5" fill="none" stroke="#000" stroke-width="2.4" stroke-linejoin="miter"/>
<path d="M1108.5 190.6V240.5" fill="none" stroke="#000" stroke-width="2.6999999999999997"/>
<path d="M1158.8 239.3v2.70M1235.7 239.3v2.70M1312.7 239.3v2.70M1108.6 235.9h-2.20M1108.6 225.1h-2.20M1108.6 214.3h-2.20M1108.6 203.5h-2.20M1108.6 192.7h-2.20" fill="none" stroke="#000" stroke-width="1.7"/>
<text x="1158.2" y="254.5" font-size="14.9" stroke="#000" stroke-width="0.3" text-anchor="middle" fill="#000">−0.5</text>
<text x="1235.7" y="254.5" font-size="14.9" stroke="#000" stroke-width="0.3" text-anchor="middle" fill="#000">0.0</text>
<text x="1312.4" y="254.5" font-size="14.9" stroke="#000" stroke-width="0.3" text-anchor="middle" fill="#000">0.5</text>
<text x="1236.5" y="268.4" font-size="14.4" stroke="#000" stroke-width="0.3" text-anchor="middle" fill="#000">Timing Difference</text>
<text x="1056.6" y="222.7" font-size="16" font-weight="bold" text-anchor="start" fill="#000" letter-spacing="0.5">SNV2</text>
<path d="M1235.6 300.0V303.0M1235.6 325.8V352.2" stroke="#000" stroke-width="2.3" fill="none"/>
<path d="M1196.1 323.3C1199.2 323.3 1210.5 323.3 1214.8 323.3C1219.1 323.2 1219.6 323.3 1222.0 323.0C1224.3 322.7 1226.7 322.1 1229.1 321.5C1231.5 320.9 1233.9 320.2 1236.3 319.4C1238.7 318.6 1241.1 318.0 1243.5 316.5C1245.9 315.1 1249.1 312.3 1250.6 310.8C1252.2 309.2 1251.2 308.3 1253.0 307.2C1254.8 306.1 1258.7 304.4 1261.6 304.0C1264.5 303.7 1267.6 304.6 1270.2 305.0C1272.8 305.5 1274.8 306.6 1277.4 306.8C1280.0 307.0 1283.4 305.9 1286.0 306.2C1288.6 306.5 1290.3 307.1 1293.2 308.6C1296.0 310.1 1299.9 313.2 1303.2 315.1C1306.6 317.0 1309.9 318.8 1313.3 320.1C1316.6 321.4 1320.1 322.2 1323.3 322.7C1326.5 323.2 1331.1 323.2 1332.6 323.3L1332.6 323.7L1196.1 323.7Z" fill="#c1668f" stroke="#c1668f" stroke-width="0.7" stroke-linejoin="round"/>
<path d="M1195.5 343.4v-0.01M1209.4 343.4v-0.01M1333.0 343.4v-0.01" fill="none" stroke="#a6a6a6" stroke-width="3.6" stroke-linecap="round"/>
<path d="M1234.3 344.4V341.9M1236.1 344.4V341.9M1237.9 344.4V331.9M1241.5 344.4V339.4M1245.5 344.4V336.9M1249.4 344.4V326.9M1253.0 344.4V321.9M1256.9 344.4V309.4M1260.2 344.4V319.4M1263.0 344.4V316.9M1266.2 344.4V316.9M1269.1 344.4V321.9M1271.9 344.4V301.9M1276.0 344.4V321.9M1278.8 344.4V326.9M1281.7 344.4V329.4M1283.8 344.4V309.4M1286.7 344.4V321.9M1289.2 344.4V309.4M1293.2 344.4V321.9M1297.5 344.4V321.9M1300.3 344.4V331.9M1303.9 344.4V336.9M1307.8 344.4V331.9M1311.1 344.4V331.9M1314.0 344.4V341.9M1316.8 344.4V341.9" fill="none" stroke="#a6a6a6" stroke-width="3.80" stroke-linecap="butt"/>
<path transform="scale(1 0.68)" d="M1234.3 506.52v-0.01M1234.3 502.85v-0.01M1236.1 506.52v-0.01M1236.1 502.85v-0.01M1237.9 506.52v-0.01M1237.9 502.85v-0.01M1237.9 499.17v-0.01M1237.9 495.49v-0.01M1237.9 491.82v-0.01M1237.9 488.14v-0.01M1241.5 506.52v-0.01M1241.5 502.85v-0.01M1241.5 499.17v-0.01M1245.5 506.52v-0.01M1245.5 502.85v-0.01M1245.5 499.17v-0.01M1245.5 495.49v-0.01M1249.4 506.52v-0.01M1249.4 502.85v-0.01M1249.4 499.17v-0.01M1249.4 495.49v-0.01M1249.4 491.82v-0.01M1249.4 488.14v-0.01M1249.4 484.46v-0.01M1249.4 480.79v-0.01M1253.0 506.52v-0.01M1253.0 502.85v-0.01M1253.0 499.17v-0.01M1253.0 495.49v-0.01M1253.0 491.82v-0.01M1253.0 488.14v-0.01M1253.0 484.46v-0.01M1253.0 480.79v-0.01M1253.0 477.11v-0.01M1253.0 473.44v-0.01M1256.9 506.52v-0.01M1256.9 502.85v-0.01M1256.9 499.17v-0.01M1256.9 495.49v-0.01M1256.9 491.82v-0.01M1256.9 488.14v-0.01M1256.9 484.46v-0.01M1256.9 480.79v-0.01M1256.9 477.11v-0.01M1256.9 473.44v-0.01M1256.9 469.76v-0.01M1256.9 466.08v-0.01M1256.9 462.41v-0.01M1256.9 458.73v-0.01M1256.9 455.05v-0.01M1260.2 506.52v-0.01M1260.2 502.85v-0.01M1260.2 499.17v-0.01M1260.2 495.49v-0.01M1260.2 491.82v-0.01M1260.2 488.14v-0.01M1260.2 484.46v-0.01M1260.2 480.79v-0.01M1260.2 477.11v-0.01M1260.2 473.44v-0.01M1260.2 469.76v-0.01M1263.0 506.52v-0.01M1263.0 502.85v-0.01M1263.0 499.17v-0.01M1263.0 495.49v-0.01M1263.0 491.82v-0.01M1263.0 488.14v-0.01M1263.0 484.46v-0.01M1263.0 480.79v-0.01M1263.0 477.11v-0.01M1263.0 473.44v-0.01M1263.0 469.76v-0.01M1263.0 466.08v-0.01M1266.2 506.52v-0.01M1266.2 502.85v-0.01M1266.2 499.17v-0.01M1266.2 495.49v-0.01M1266.2 491.82v-0.01M1266.2 488.14v-0.01M1266.2 484.46v-0.01M1266.2 480.79v-0.01M1266.2 477.11v-0.01M1266.2 473.44v-0.01M1266.2 469.76v-0.01M1266.2 466.08v-0.01M1269.1 506.52v-0.01M1269.1 502.85v-0.01M1269.1 499.17v-0.01M1269.1 495.49v-0.01M1269.1 491.82v-0.01M1269.1 488.14v-0.01M1269.1 484.46v-0.01M1269.1 480.79v-0.01M1269.1 477.11v-0.01M1269.1 473.44v-0.01M1271.9 506.52v-0.01M1271.9 502.85v-0.01M1271.9 499.17v-0.01M1271.9 495.49v-0.01M1271.9 491.82v-0.01M1271.9 488.14v-0.01M1271.9 484.46v-0.01M1271.9 480.79v-0.01M1271.9 477.11v-0.01M1271.9 473.44v-0.01M1271.9 469.76v-0.01M1271.9 466.08v-0.01M1271.9 462.41v-0.01M1271.9 458.73v-0.01M1271.9 455.05v-0.01M1271.9 451.38v-0.01M1271.9 447.70v-0.01M1271.9 444.02v-0.01M1276.0 506.52v-0.01M1276.0 502.85v-0.01M1276.0 499.17v-0.01M1276.0 495.49v-0.01M1276.0 491.82v-0.01M1276.0 488.14v-0.01M1276.0 484.46v-0.01M1276.0 480.79v-0.01M1276.0 477.11v-0.01M1276.0 473.44v-0.01M1278.8 506.52v-0.01M1278.8 502.85v-0.01M1278.8 499.17v-0.01M1278.8 495.49v-0.01M1278.8 491.82v-0.01M1278.8 488.14v-0.01M1278.8 484.46v-0.01M1278.8 480.79v-0.01M1281.7 506.52v-0.01M1281.7 502.85v-0.01M1281.7 499.17v-0.01M1281.7 495.49v-0.01M1281.7 491.82v-0.01M1281.7 488.14v-0.01M1281.7 484.46v-0.01M1283.8 506.52v-0.01M1283.8 502.85v-0.01M1283.8 499.17v-0.01M1283.8 495.49v-0.01M1283.8 491.82v-0.01M1283.8 488.14v-0.01M1283.8 484.46v-0.01M1283.8 480.79v-0.01M1283.8 477.11v-0.01M1283.8 473.44v-0.01M1283.8 469.76v-0.01M1283.8 466.08v-0.01M1283.8 462.41v-0.01M1283.8 458.73v-0.01M1283.8 455.05v-0.01M1286.7 506.52v-0.01M1286.7 502.85v-0.01M1286.7 499.17v-0.01M1286.7 495.49v-0.01M1286.7 491.82v-0.01M1286.7 488.14v-0.01M1286.7 484.46v-0.01M1286.7 480.79v-0.01M1286.7 477.11v-0.01M1286.7 473.44v-0.01M1289.2 506.52v-0.01M1289.2 502.85v-0.01M1289.2 499.17v-0.01M1289.2 495.49v-0.01M1289.2 491.82v-0.01M1289.2 488.14v-0.01M1289.2 484.46v-0.01M1289.2 480.79v-0.01M1289.2 477.11v-0.01M1289.2 473.44v-0.01M1289.2 469.76v-0.01M1289.2 466.08v-0.01M1289.2 462.41v-0.01M1289.2 458.73v-0.01M1289.2 455.05v-0.01M1293.2 506.52v-0.01M1293.2 502.85v-0.01M1293.2 499.17v-0.01M1293.2 495.49v-0.01M1293.2 491.82v-0.01M1293.2 488.14v-0.01M1293.2 484.46v-0.01M1293.2 480.79v-0.01M1293.2 477.11v-0.01M1293.2 473.44v-0.01M1297.5 506.52v-0.01M1297.5 502.85v-0.01M1297.5 499.17v-0.01M1297.5 495.49v-0.01M1297.5 491.82v-0.01M1297.5 488.14v-0.01M1297.5 484.46v-0.01M1297.5 480.79v-0.01M1297.5 477.11v-0.01M1297.5 473.44v-0.01M1300.3 506.52v-0.01M1300.3 502.85v-0.01M1300.3 499.17v-0.01M1300.3 495.49v-0.01M1300.3 491.82v-0.01M1300.3 488.14v-0.01M1303.9 506.52v-0.01M1303.9 502.85v-0.01M1303.9 499.17v-0.01M1303.9 495.49v-0.01M1307.8 506.52v-0.01M1307.8 502.85v-0.01M1307.8 499.17v-0.01M1307.8 495.49v-0.01M1307.8 491.82v-0.01M1307.8 488.14v-0.01M1311.1 506.52v-0.01M1311.1 502.85v-0.01M1311.1 499.17v-0.01M1311.1 495.49v-0.01M1311.1 491.82v-0.01M1311.1 488.14v-0.01M1314.0 506.52v-0.01M1314.0 502.85v-0.01M1316.8 506.52v-0.01M1316.8 502.85v-0.01" fill="none" stroke="#a6a6a6" stroke-width="4.6" stroke-linecap="round"/>
<path d="M1108.6 299.8V349.05H1362.5" fill="none" stroke="#000" stroke-width="2.4" stroke-linejoin="miter"/>
<path d="M1108.5 299.8V350.25" fill="none" stroke="#000" stroke-width="2.6999999999999997"/>
<path d="M1158.8 349.05v2.70M1235.7 349.05v2.70M1312.7 349.05v2.70M1108.6 345.7h-2.20M1108.6 334.9h-2.20M1108.6 324.1h-2.20M1108.6 313.2h-2.20M1108.6 302.5h-2.20" fill="none" stroke="#000" stroke-width="1.7"/>
<text x="1158.2" y="363.3" font-size="14.9" stroke="#000" stroke-width="0.3" text-anchor="middle" fill="#000">−0.5</text>
<text x="1235.7" y="363.3" font-size="14.9" stroke="#000" stroke-width="0.3" text-anchor="middle" fill="#000">0.0</text>
<text x="1312.4" y="363.3" font-size="14.9" stroke="#000" stroke-width="0.3" text-anchor="middle" fill="#000">0.5</text>
<text x="1236.5" y="378" font-size="14.4" stroke="#000" stroke-width="0.3" text-anchor="middle" fill="#000">Timing Difference</text>
<text x="1056.6" y="332.6" font-size="16" font-weight="bold" text-anchor="start" fill="#000" letter-spacing="0.5">SNV3</text>
</svg>
</body>
</html>
